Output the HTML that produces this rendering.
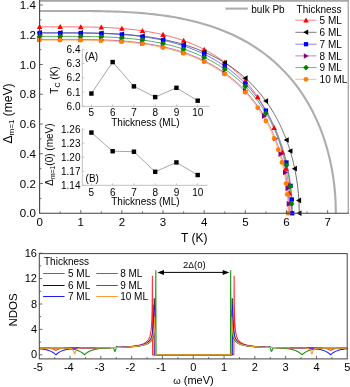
<!DOCTYPE html>
<html><head><meta charset="utf-8"><title>Pb thin film superconducting gap</title>
<style>html,body{margin:0;padding:0;background:#fff;}svg{display:block;will-change:transform;}svg text{font-family:"Liberation Sans",Arial,sans-serif;}</style></head>
<body>
<svg width="350" height="387" viewBox="0 0 350 387" fill="#000">
<rect width="350" height="387" fill="#fff"/>
<polyline points="39.60,10.95 43.87,10.95 48.14,10.95 52.40,10.95 56.67,10.95 60.94,10.95 65.21,10.95 69.48,10.96 73.74,10.96 78.01,10.97 82.28,10.99 86.55,11.02 90.82,11.05 95.09,11.10 99.35,11.17 103.62,11.25 107.89,11.35 112.16,11.47 116.43,11.62 120.69,11.79 124.96,11.99 129.23,12.23 133.50,12.49 137.77,12.80 142.03,13.14 146.30,13.52 150.57,13.94 154.84,14.41 159.11,14.93 163.37,15.50 167.64,16.13 171.91,16.81 176.18,17.55 180.45,18.35 184.72,19.22 188.98,20.16 193.25,21.17 197.52,22.26 201.79,23.43 206.06,24.69 210.32,26.03 214.59,27.48 218.86,29.02 223.13,30.67 227.40,32.43 231.66,34.31 235.93,36.31 240.20,38.45 244.47,40.74 248.74,43.18 253.00,45.78 257.27,48.56 261.54,51.53 265.81,54.71 270.08,58.11 274.35,61.75 278.61,65.67 282.88,69.88 287.15,74.42 291.42,79.33 291.42,79.33 291.74,79.72 292.06,80.10 292.38,80.49 292.70,80.88 293.02,81.28 293.34,81.67 293.66,82.07 293.98,82.47 294.29,82.88 294.61,83.29 294.93,83.69 295.25,84.11 295.57,84.52 295.89,84.94 296.21,85.36 296.53,85.78 296.85,86.21 297.17,86.63 297.49,87.07 297.81,87.50 298.13,87.94 298.45,88.38 298.77,88.82 299.09,89.27 299.41,89.71 299.73,90.17 300.05,90.62 300.37,91.08 300.69,91.54 301.01,92.01 301.33,92.48 301.65,92.95 301.97,93.42 302.29,93.90 302.61,94.38 302.93,94.87 303.25,95.36 303.57,95.85 303.89,96.34 304.21,96.84 304.53,97.35 304.85,97.86 305.16,98.37 305.48,98.88 305.80,99.40 306.12,99.93 306.44,100.45 306.76,100.98 307.08,101.52 307.40,102.06 307.72,102.60 308.04,103.15 308.36,103.71 308.68,104.27 309.00,104.83 309.32,105.40 309.64,105.97 309.96,106.54 310.28,107.13 310.60,107.71 310.92,108.31 311.24,108.90 311.56,109.51 311.88,110.11 312.20,110.73 312.52,111.35 312.84,111.97 313.16,112.60 313.48,113.24 313.80,113.89 314.12,114.53 314.44,115.19 314.76,115.85 315.08,116.52 315.40,117.20 315.71,117.88 316.03,118.57 316.35,119.27 316.67,119.97 316.99,120.68 317.31,121.40 317.63,122.13 317.95,122.87 318.27,123.61 318.59,124.36 318.91,125.12 319.23,125.90 319.55,126.67 319.87,127.46 320.19,128.26 320.51,129.07 320.83,129.89 321.15,130.72 321.47,131.56 321.79,132.42 322.11,133.28 322.43,134.16 322.75,135.05 323.07,135.95 323.39,136.87 323.71,137.80 324.03,138.74 324.35,139.70 324.67,140.67 324.99,141.67 325.31,142.67 325.63,143.70 325.95,144.74 326.26,145.81 326.58,146.89 326.90,148.00 327.22,149.13 327.54,150.28 327.86,151.46 328.18,152.66 328.50,153.89 328.82,155.16 329.14,156.45 329.46,157.78 329.78,159.14 330.10,160.55 330.42,162.00 330.74,163.49 331.06,165.04 331.38,166.64 331.70,168.30 332.02,170.03 332.34,171.85 332.66,173.74 332.98,175.75 333.30,177.87 333.62,180.13 333.94,182.57 334.26,185.22 334.58,188.17 334.90,191.52 335.22,195.50 335.54,200.71 335.86,213.30" fill="none" stroke="#adadad" stroke-width="2.1"/>
<polyline points="39.60,26.87 42.87,26.87 46.14,26.87 49.41,26.87 52.67,26.87 55.94,26.87 59.21,26.87 62.48,26.87 65.75,26.88 69.02,26.88 72.28,26.89 75.55,26.91 78.82,26.93 82.09,26.96 85.36,26.99 88.63,27.04 91.90,27.10 95.16,27.18 98.43,27.27 101.70,27.37 104.97,27.50 108.24,27.65 111.51,27.81 114.77,28.01 118.04,28.22 121.31,28.46 124.58,28.74 127.85,29.04 131.12,29.37 134.39,29.73 137.65,30.14 140.92,30.57 144.19,31.05 147.46,31.57 150.73,32.13 154.00,32.73 157.27,33.38 160.53,34.08 163.80,34.83 167.07,35.64 170.34,36.50 173.61,37.42 176.88,38.40 180.14,39.44 183.41,40.56 186.68,41.74 189.95,43.00 193.22,44.34 196.49,45.76 199.76,47.27 203.02,48.87 206.29,50.57 209.56,52.37 212.83,54.28 216.10,56.31 219.37,58.46 222.63,60.74 225.90,63.16 229.17,65.73 232.44,68.46 235.71,71.37 238.98,74.47 242.25,77.78 245.51,81.32 248.78,85.10 252.05,89.17 255.32,93.54 258.59,98.27 261.86,103.40 265.12,109.01 265.12,109.01 265.34,109.39 265.55,109.77 265.76,110.15 265.97,110.54 266.18,110.93 266.39,111.32 266.60,111.71 266.81,112.11 267.02,112.50 267.23,112.91 267.44,113.31 267.65,113.72 267.86,114.12 268.07,114.54 268.28,114.95 268.49,115.37 268.70,115.79 268.92,116.21 269.13,116.64 269.34,117.07 269.55,117.50 269.76,117.93 269.97,118.37 270.18,118.81 270.39,119.26 270.60,119.70 270.81,120.15 271.02,120.61 271.23,121.06 271.44,121.53 271.65,121.99 271.86,122.46 272.07,122.93 272.28,123.40 272.49,123.88 272.71,124.36 272.92,124.85 273.13,125.34 273.34,125.83 273.55,126.33 273.76,126.83 273.97,127.34 274.18,127.85 274.39,128.36 274.60,128.88 274.81,129.41 275.02,129.94 275.23,130.47 275.44,131.01 275.65,131.55 275.86,132.10 276.07,132.65 276.29,133.21 276.50,133.77 276.71,134.34 276.92,134.91 277.13,135.49 277.34,136.07 277.55,136.67 277.76,137.26 277.97,137.87 278.18,138.48 278.39,139.09 278.60,139.71 278.81,140.34 279.02,140.98 279.23,141.62 279.44,142.28 279.65,142.93 279.87,143.60 280.08,144.28 280.29,144.96 280.50,145.65 280.71,146.35 280.92,147.06 281.13,147.78 281.34,148.51 281.55,149.25 281.76,149.99 281.97,150.75 282.18,151.53 282.39,152.31 282.60,153.10 282.81,153.91 283.02,154.73 283.23,155.56 283.44,156.41 283.66,157.28 283.87,158.15 284.08,159.05 284.29,159.96 284.50,160.89 284.71,161.84 284.92,162.81 285.13,163.80 285.34,164.82 285.55,165.86 285.76,166.92 285.97,168.01 286.18,169.13 286.39,170.28 286.60,171.47 286.81,172.70 287.02,173.96 287.24,175.27 287.45,176.64 287.66,178.05 287.87,179.53 288.08,181.09 288.29,182.72 288.50,184.45 288.71,186.30 288.92,188.29 289.13,190.46 289.34,192.85 289.55,195.58 289.76,198.83 289.97,203.06 290.18,213.30" fill="none" stroke="#ff4a4a" stroke-width="0.8"/>
<polyline points="39.60,32.82 42.99,32.82 46.37,32.82 49.76,32.82 53.15,32.82 56.53,32.82 59.92,32.82 63.31,32.83 66.69,32.83 70.08,32.83 73.47,32.84 76.85,32.86 80.24,32.88 83.63,32.90 87.01,32.94 90.40,32.99 93.78,33.05 97.17,33.12 100.56,33.21 103.94,33.31 107.33,33.43 110.72,33.57 114.10,33.74 117.49,33.92 120.88,34.13 124.26,34.36 127.65,34.63 131.04,34.92 134.42,35.24 137.81,35.59 141.20,35.98 144.58,36.41 147.97,36.87 151.36,37.37 154.74,37.91 158.13,38.49 161.52,39.12 164.90,39.80 168.29,40.53 171.68,41.31 175.06,42.14 178.45,43.03 181.84,43.98 185.22,44.99 188.61,46.07 191.99,47.22 195.38,48.44 198.77,49.74 202.15,51.11 205.54,52.57 208.93,54.12 212.31,55.77 215.70,57.51 219.09,59.36 222.47,61.32 225.86,63.40 229.25,65.61 232.63,67.95 236.02,70.44 239.41,73.09 242.79,75.90 246.18,78.91 249.57,82.11 252.95,85.53 256.34,89.19 259.73,93.13 263.11,97.36 266.50,101.94 269.89,106.91 273.27,112.34 273.27,112.34 273.49,112.70 273.71,113.07 273.93,113.44 274.14,113.82 274.36,114.19 274.58,114.57 274.80,114.95 275.02,115.34 275.24,115.72 275.45,116.11 275.67,116.50 275.89,116.90 276.11,117.29 276.33,117.69 276.54,118.09 276.76,118.49 276.98,118.90 277.20,119.31 277.42,119.72 277.64,120.14 277.85,120.56 278.07,120.98 278.29,121.40 278.51,121.83 278.73,122.26 278.94,122.69 279.16,123.13 279.38,123.57 279.60,124.01 279.82,124.46 280.04,124.90 280.25,125.36 280.47,125.81 280.69,126.27 280.91,126.74 281.13,127.20 281.34,127.67 281.56,128.15 281.78,128.63 282.00,129.11 282.22,129.59 282.44,130.08 282.65,130.58 282.87,131.08 283.09,131.58 283.31,132.09 283.53,132.60 283.74,133.11 283.96,133.63 284.18,134.16 284.40,134.69 284.62,135.22 284.84,135.76 285.05,136.31 285.27,136.86 285.49,137.41 285.71,137.97 285.93,138.54 286.14,139.11 286.36,139.69 286.58,140.27 286.80,140.86 287.02,141.46 287.24,142.06 287.45,142.67 287.67,143.29 287.89,143.91 288.11,144.54 288.33,145.18 288.54,145.83 288.76,146.48 288.98,147.14 289.20,147.81 289.42,148.49 289.64,149.17 289.85,149.87 290.07,150.58 290.29,151.29 290.51,152.02 290.73,152.75 290.94,153.50 291.16,154.26 291.38,155.02 291.60,155.81 291.82,156.60 292.04,157.41 292.25,158.23 292.47,159.06 292.69,159.92 292.91,160.78 293.13,161.67 293.34,162.57 293.56,163.49 293.78,164.42 294.00,165.38 294.22,166.36 294.44,167.37 294.65,168.40 294.87,169.46 295.09,170.54 295.31,171.66 295.53,172.81 295.74,173.99 295.96,175.22 296.18,176.49 296.40,177.81 296.62,179.18 296.84,180.61 297.05,182.12 297.27,183.70 297.49,185.37 297.71,187.16 297.93,189.09 298.14,191.18 298.36,193.51 298.58,196.15 298.80,199.29 299.02,203.39 299.24,213.30" fill="none" stroke="#444444" stroke-width="0.8"/>
<polyline points="39.60,32.97 42.90,32.97 46.19,32.97 49.49,32.97 52.78,32.97 56.08,32.97 59.37,32.97 62.67,32.97 65.96,32.98 69.26,32.98 72.55,32.99 75.85,33.01 79.14,33.03 82.44,33.05 85.73,33.09 89.03,33.14 92.32,33.20 95.62,33.27 98.92,33.35 102.21,33.46 105.51,33.58 108.80,33.72 112.10,33.88 115.39,34.07 118.69,34.28 121.98,34.51 125.28,34.77 128.57,35.07 131.87,35.39 135.16,35.74 138.46,36.13 141.75,36.55 145.05,37.01 148.35,37.51 151.64,38.05 154.94,38.64 158.23,39.27 161.53,39.95 164.82,40.67 168.12,41.45 171.41,42.28 174.71,43.17 178.00,44.12 181.30,45.13 184.59,46.21 187.89,47.36 191.18,48.58 194.48,49.87 197.77,51.25 201.07,52.70 204.37,54.25 207.66,55.90 210.96,57.64 214.25,59.48 217.55,61.44 220.84,63.52 224.14,65.73 227.43,68.07 230.73,70.56 234.02,73.20 237.32,76.02 240.61,79.02 243.91,82.22 247.20,85.64 250.50,89.30 253.80,93.23 257.09,97.46 260.39,102.03 263.68,107.00 266.98,112.42 266.98,112.42 267.19,112.79 267.40,113.15 267.61,113.53 267.83,113.90 268.04,114.28 268.25,114.65 268.46,115.03 268.67,115.42 268.89,115.80 269.10,116.19 269.31,116.58 269.52,116.97 269.74,117.37 269.95,117.77 270.16,118.17 270.37,118.57 270.59,118.98 270.80,119.39 271.01,119.80 271.22,120.22 271.43,120.63 271.65,121.05 271.86,121.48 272.07,121.90 272.28,122.33 272.50,122.77 272.71,123.20 272.92,123.64 273.13,124.08 273.35,124.53 273.56,124.98 273.77,125.43 273.98,125.89 274.19,126.34 274.41,126.81 274.62,127.27 274.83,127.74 275.04,128.22 275.26,128.70 275.47,129.18 275.68,129.66 275.89,130.15 276.11,130.65 276.32,131.14 276.53,131.65 276.74,132.15 276.95,132.66 277.17,133.18 277.38,133.70 277.59,134.22 277.80,134.75 278.02,135.29 278.23,135.83 278.44,136.37 278.65,136.92 278.87,137.48 279.08,138.04 279.29,138.60 279.50,139.17 279.71,139.75 279.93,140.33 280.14,140.92 280.35,141.52 280.56,142.12 280.78,142.73 280.99,143.35 281.20,143.97 281.41,144.60 281.63,145.24 281.84,145.88 282.05,146.53 282.26,147.19 282.47,147.86 282.69,148.54 282.90,149.23 283.11,149.92 283.32,150.63 283.54,151.34 283.75,152.07 283.96,152.80 284.17,153.55 284.39,154.30 284.60,155.07 284.81,155.85 285.02,156.65 285.23,157.45 285.45,158.27 285.66,159.11 285.87,159.96 286.08,160.83 286.30,161.71 286.51,162.61 286.72,163.53 286.93,164.46 287.15,165.42 287.36,166.40 287.57,167.41 287.78,168.44 287.99,169.49 288.21,170.58 288.42,171.69 288.63,172.84 288.84,174.03 289.06,175.25 289.27,176.52 289.48,177.84 289.69,179.21 289.91,180.64 290.12,182.14 290.33,183.72 290.54,185.40 290.75,187.18 290.97,189.11 291.18,191.20 291.39,193.52 291.60,196.16 291.82,199.30 292.03,203.39 292.24,213.30" fill="none" stroke="#4a4aff" stroke-width="0.8"/>
<polyline points="39.60,39.37 42.86,39.37 46.11,39.37 49.37,39.37 52.62,39.37 55.88,39.37 59.13,39.37 62.39,39.37 65.64,39.37 68.90,39.38 72.15,39.39 75.41,39.40 78.66,39.42 81.92,39.45 85.17,39.48 88.43,39.53 91.68,39.59 94.94,39.66 98.19,39.74 101.45,39.84 104.70,39.96 107.96,40.09 111.21,40.25 114.47,40.43 117.72,40.63 120.98,40.86 124.23,41.11 127.49,41.39 130.74,41.70 134.00,42.04 137.25,42.41 140.51,42.82 143.76,43.27 147.02,43.75 150.27,44.27 153.53,44.84 156.78,45.44 160.04,46.10 163.29,46.80 166.55,47.55 169.80,48.35 173.06,49.21 176.31,50.12 179.57,51.10 182.82,52.14 186.08,53.24 189.33,54.42 192.59,55.67 195.84,56.99 199.10,58.40 202.35,59.90 205.61,61.48 208.86,63.16 212.12,64.94 215.37,66.83 218.63,68.84 221.88,70.96 225.14,73.22 228.39,75.62 231.65,78.17 234.90,80.89 238.16,83.78 241.41,86.87 244.67,90.16 247.92,93.70 251.18,97.49 254.43,101.57 257.69,105.98 260.94,110.77 264.20,116.00 264.20,116.00 264.41,116.35 264.62,116.71 264.83,117.07 265.04,117.43 265.25,117.79 265.46,118.15 265.67,118.52 265.88,118.89 266.09,119.26 266.30,119.64 266.51,120.01 266.72,120.39 266.93,120.77 267.14,121.16 267.34,121.54 267.55,121.93 267.76,122.33 267.97,122.72 268.18,123.12 268.39,123.52 268.60,123.92 268.81,124.33 269.02,124.73 269.23,125.15 269.44,125.56 269.65,125.98 269.86,126.40 270.07,126.82 270.28,127.25 270.49,127.68 270.70,128.11 270.91,128.55 271.12,128.99 271.33,129.43 271.54,129.88 271.75,130.33 271.96,130.78 272.17,131.24 272.38,131.70 272.59,132.16 272.80,132.63 273.01,133.10 273.22,133.58 273.43,134.06 273.64,134.54 273.85,135.03 274.06,135.52 274.27,136.02 274.47,136.52 274.68,137.03 274.89,137.54 275.10,138.05 275.31,138.57 275.52,139.10 275.73,139.63 275.94,140.17 276.15,140.71 276.36,141.25 276.57,141.80 276.78,142.36 276.99,142.92 277.20,143.49 277.41,144.07 277.62,144.65 277.83,145.23 278.04,145.83 278.25,146.43 278.46,147.04 278.67,147.65 278.88,148.27 279.09,148.90 279.30,149.54 279.51,150.18 279.72,150.84 279.93,151.50 280.14,152.17 280.35,152.85 280.56,153.54 280.77,154.24 280.98,154.95 281.19,155.67 281.40,156.40 281.60,157.14 281.81,157.89 282.02,158.66 282.23,159.44 282.44,160.23 282.65,161.03 282.86,161.85 283.07,162.69 283.28,163.54 283.49,164.41 283.70,165.29 283.91,166.20 284.12,167.12 284.33,168.07 284.54,169.04 284.75,170.03 284.96,171.05 285.17,172.09 285.38,173.17 285.59,174.28 285.80,175.42 286.01,176.60 286.22,177.82 286.43,179.09 286.64,180.42 286.85,181.80 287.06,183.25 287.27,184.77 287.48,186.39 287.69,188.11 287.90,189.97 288.11,191.99 288.32,194.23 288.53,196.77 288.74,199.80 288.94,203.75 289.15,213.30" fill="none" stroke="#a850a8" stroke-width="0.8"/>
<polyline points="39.60,36.39 42.89,36.39 46.18,36.39 49.47,36.39 52.76,36.39 56.05,36.39 59.34,36.39 62.63,36.40 65.92,36.40 69.21,36.40 72.50,36.41 75.79,36.43 79.08,36.45 82.37,36.47 85.66,36.51 88.95,36.56 92.24,36.61 95.53,36.68 98.82,36.77 102.11,36.87 105.40,36.99 108.69,37.13 111.98,37.29 115.27,37.47 118.56,37.67 121.85,37.91 125.14,38.16 128.43,38.45 131.72,38.76 135.01,39.11 138.30,39.49 141.59,39.91 144.88,40.36 148.17,40.85 151.46,41.38 154.75,41.95 158.04,42.57 161.33,43.24 164.62,43.95 167.91,44.71 171.20,45.53 174.49,46.40 177.78,47.33 181.07,48.32 184.36,49.38 187.65,50.51 190.94,51.70 194.23,52.97 197.52,54.32 200.81,55.75 204.10,57.27 207.39,58.88 210.68,60.59 213.97,62.40 217.26,64.33 220.55,66.36 223.84,68.53 227.13,70.83 230.42,73.27 233.71,75.86 237.00,78.62 240.29,81.56 243.58,84.70 246.87,88.06 250.16,91.65 253.45,95.51 256.74,99.66 260.03,104.15 263.32,109.02 266.61,114.33 266.61,114.33 266.82,114.69 267.03,115.06 267.24,115.42 267.45,115.79 267.67,116.15 267.88,116.53 268.09,116.90 268.30,117.27 268.51,117.65 268.73,118.03 268.94,118.42 269.15,118.80 269.36,119.19 269.57,119.58 269.79,119.97 270.00,120.37 270.21,120.77 270.42,121.17 270.63,121.57 270.85,121.98 271.06,122.39 271.27,122.80 271.48,123.22 271.69,123.64 271.91,124.06 272.12,124.48 272.33,124.91 272.54,125.34 272.75,125.78 272.96,126.21 273.18,126.65 273.39,127.10 273.60,127.54 273.81,127.99 274.02,128.45 274.24,128.91 274.45,129.37 274.66,129.83 274.87,130.30 275.08,130.77 275.30,131.25 275.51,131.73 275.72,132.21 275.93,132.70 276.14,133.20 276.36,133.69 276.57,134.19 276.78,134.70 276.99,135.21 277.20,135.72 277.42,136.24 277.63,136.77 277.84,137.30 278.05,137.83 278.26,138.37 278.48,138.91 278.69,139.46 278.90,140.02 279.11,140.58 279.32,141.15 279.54,141.72 279.75,142.30 279.96,142.88 280.17,143.47 280.38,144.07 280.60,144.67 280.81,145.29 281.02,145.90 281.23,146.53 281.44,147.16 281.66,147.80 281.87,148.45 282.08,149.11 282.29,149.77 282.50,150.44 282.71,151.13 282.93,151.82 283.14,152.52 283.35,153.23 283.56,153.95 283.77,154.68 283.99,155.42 284.20,156.18 284.41,156.94 284.62,157.72 284.83,158.51 285.05,159.32 285.26,160.14 285.47,160.97 285.68,161.82 285.89,162.69 286.11,163.57 286.32,164.47 286.53,165.39 286.74,166.33 286.95,167.29 287.17,168.28 287.38,169.29 287.59,170.32 287.80,171.39 288.01,172.48 288.23,173.61 288.44,174.77 288.65,175.97 288.86,177.22 289.07,178.51 289.29,179.85 289.50,181.26 289.71,182.73 289.92,184.28 290.13,185.93 290.35,187.68 290.56,189.57 290.77,191.62 290.98,193.90 291.19,196.49 291.41,199.57 291.62,203.58 291.83,213.30" fill="none" stroke="#309830" stroke-width="0.8"/>
<polyline points="39.60,40.11 42.84,40.11 46.08,40.11 49.32,40.11 52.57,40.11 55.81,40.11 59.05,40.11 62.29,40.12 65.53,40.12 68.77,40.12 72.02,40.13 75.26,40.15 78.50,40.17 81.74,40.19 84.98,40.23 88.22,40.27 91.47,40.33 94.71,40.40 97.95,40.48 101.19,40.58 104.43,40.70 107.67,40.83 110.92,40.99 114.16,41.17 117.40,41.37 120.64,41.59 123.88,41.84 127.12,42.12 130.37,42.43 133.61,42.77 136.85,43.15 140.09,43.55 143.33,43.99 146.57,44.48 149.82,44.99 153.06,45.56 156.30,46.16 159.54,46.81 162.78,47.51 166.02,48.26 169.27,49.06 172.51,49.91 175.75,50.82 178.99,51.79 182.23,52.83 185.47,53.93 188.72,55.10 191.96,56.34 195.20,57.66 198.44,59.06 201.68,60.55 204.92,62.13 208.17,63.80 211.41,65.58 214.65,67.46 217.89,69.45 221.13,71.57 224.37,73.82 227.62,76.21 230.86,78.75 234.10,81.45 237.34,84.33 240.58,87.41 243.82,90.69 247.07,94.21 250.31,97.98 253.55,102.05 256.79,106.44 260.03,111.21 263.27,116.41 263.27,116.41 263.48,116.77 263.69,117.12 263.90,117.48 264.11,117.84 264.32,118.20 264.53,118.56 264.74,118.93 264.94,119.29 265.15,119.66 265.36,120.04 265.57,120.41 265.78,120.79 265.99,121.17 266.20,121.55 266.41,121.94 266.61,122.32 266.82,122.71 267.03,123.11 267.24,123.50 267.45,123.90 267.66,124.30 267.87,124.71 268.08,125.11 268.29,125.52 268.49,125.94 268.70,126.35 268.91,126.77 269.12,127.19 269.33,127.62 269.54,128.04 269.75,128.48 269.96,128.91 270.17,129.35 270.37,129.79 270.58,130.23 270.79,130.68 271.00,131.13 271.21,131.59 271.42,132.05 271.63,132.51 271.84,132.98 272.04,133.45 272.25,133.92 272.46,134.40 272.67,134.88 272.88,135.37 273.09,135.86 273.30,136.35 273.51,136.85 273.72,137.35 273.92,137.86 274.13,138.38 274.34,138.89 274.55,139.42 274.76,139.95 274.97,140.48 275.18,141.02 275.39,141.56 275.60,142.11 275.80,142.66 276.01,143.22 276.22,143.79 276.43,144.36 276.64,144.94 276.85,145.53 277.06,146.12 277.27,146.72 277.47,147.32 277.68,147.93 277.89,148.55 278.10,149.18 278.31,149.81 278.52,150.45 278.73,151.11 278.94,151.76 279.15,152.43 279.35,153.11 279.56,153.80 279.77,154.49 279.98,155.20 280.19,155.91 280.40,156.64 280.61,157.38 280.82,158.13 281.03,158.89 281.23,159.67 281.44,160.45 281.65,161.26 281.86,162.07 282.07,162.90 282.28,163.75 282.49,164.62 282.70,165.50 282.90,166.40 283.11,167.32 283.32,168.26 283.53,169.22 283.74,170.21 283.95,171.23 284.16,172.27 284.37,173.34 284.58,174.44 284.78,175.58 284.99,176.76 285.20,177.98 285.41,179.24 285.62,180.56 285.83,181.93 286.04,183.38 286.25,184.89 286.46,186.50 286.66,188.22 286.87,190.07 287.08,192.08 287.29,194.31 287.50,196.84 287.71,199.85 287.92,203.79 288.13,213.30" fill="none" stroke="#ff9c40" stroke-width="0.8"/>
<polygon points="39.60,24.07 42.41,29.12 36.80,29.12" fill="#ff0000"/>
<polygon points="60.17,24.07 62.98,29.12 57.37,29.12" fill="#ff0000"/>
<polygon points="80.75,24.14 83.55,29.19 77.94,29.19" fill="#ff0000"/>
<polygon points="101.32,24.56 104.12,29.61 98.51,29.61" fill="#ff0000"/>
<polygon points="121.89,25.71 124.70,30.75 119.09,30.75" fill="#ff0000"/>
<polygon points="142.47,27.99 145.27,33.04 139.66,33.04" fill="#ff0000"/>
<polygon points="163.04,31.85 165.84,36.90 160.23,36.90" fill="#ff0000"/>
<polygon points="183.61,37.82 186.42,42.87 180.81,42.87" fill="#ff0000"/>
<polygon points="204.19,46.66 206.99,51.71 201.38,51.71" fill="#ff0000"/>
<polygon points="224.76,59.49 227.56,64.54 221.95,64.54" fill="#ff0000"/>
<polygon points="245.33,78.31 248.14,83.36 242.53,83.36" fill="#ff0000"/>
<polygon points="257.68,94.11 260.48,99.16 254.87,99.16" fill="#ff0000"/>
<polygon points="274.14,124.94 276.94,129.99 271.33,129.99" fill="#ff0000"/>
<polygon points="282.37,149.40 285.17,154.45 279.56,154.45" fill="#ff0000"/>
<polygon points="286.07,165.72 288.87,170.77 283.26,170.77" fill="#ff0000"/>
<polygon points="288.54,181.98 291.34,187.03 285.73,187.03" fill="#ff0000"/>
<polygon points="289.36,190.29 292.17,195.33 286.56,195.33" fill="#ff0000"/>
<polygon points="289.98,200.37 292.78,205.42 287.17,205.42" fill="#ff0000"/>
<polygon points="36.80,32.82 41.84,30.02 41.84,35.63" fill="#000000"/>
<polygon points="57.37,32.82 62.42,30.02 62.42,35.63" fill="#000000"/>
<polygon points="77.94,32.88 82.99,30.08 82.99,35.69" fill="#000000"/>
<polygon points="98.51,33.23 103.56,30.42 103.56,36.03" fill="#000000"/>
<polygon points="119.09,34.20 124.14,31.39 124.14,37.00" fill="#000000"/>
<polygon points="139.66,36.14 144.71,33.33 144.71,38.94" fill="#000000"/>
<polygon points="160.23,39.42 165.28,36.62 165.28,42.23" fill="#000000"/>
<polygon points="180.81,44.51 185.86,41.70 185.86,47.31" fill="#000000"/>
<polygon points="201.38,51.98 206.43,49.17 206.43,54.78" fill="#000000"/>
<polygon points="221.95,62.71 227.00,59.90 227.00,65.51" fill="#000000"/>
<polygon points="242.53,78.14 247.58,75.33 247.58,80.94" fill="#000000"/>
<polygon points="263.10,101.12 268.15,98.31 268.15,103.92" fill="#000000"/>
<polygon points="283.68,140.00 288.72,137.20 288.72,142.81" fill="#000000"/>
<polygon points="287.38,150.94 292.43,148.13 292.43,153.74" fill="#000000"/>
<polygon points="291.90,168.67 296.95,165.86 296.95,171.47" fill="#000000"/>
<polygon points="296.06,200.39 301.11,197.58 301.11,203.19" fill="#000000"/>
<polygon points="296.43,213.30 301.48,210.50 301.48,216.11" fill="#000000"/>
<rect x="37.43" y="30.80" width="4.33" height="4.33" fill="#0000ff"/>
<rect x="58.01" y="30.81" width="4.33" height="4.33" fill="#0000ff"/>
<rect x="78.58" y="30.87" width="4.33" height="4.33" fill="#0000ff"/>
<rect x="99.15" y="31.26" width="4.33" height="4.33" fill="#0000ff"/>
<rect x="119.73" y="32.34" width="4.33" height="4.33" fill="#0000ff"/>
<rect x="140.30" y="34.48" width="4.33" height="4.33" fill="#0000ff"/>
<rect x="160.87" y="38.11" width="4.33" height="4.33" fill="#0000ff"/>
<rect x="181.45" y="43.72" width="4.33" height="4.33" fill="#0000ff"/>
<rect x="202.02" y="52.00" width="4.33" height="4.33" fill="#0000ff"/>
<rect x="222.59" y="63.99" width="4.33" height="4.33" fill="#0000ff"/>
<rect x="243.17" y="81.50" width="4.33" height="4.33" fill="#0000ff"/>
<rect x="263.74" y="108.44" width="4.33" height="4.33" fill="#0000ff"/>
<rect x="284.31" y="160.32" width="4.33" height="4.33" fill="#0000ff"/>
<rect x="288.43" y="183.66" width="4.33" height="4.33" fill="#0000ff"/>
<rect x="289.66" y="197.35" width="4.33" height="4.33" fill="#0000ff"/>
<rect x="290.07" y="211.13" width="4.33" height="4.33" fill="#0000ff"/>
<polygon points="42.41,39.37 37.36,36.56 37.36,42.17" fill="#800080"/>
<polygon points="62.98,39.37 57.93,36.57 57.93,42.18" fill="#800080"/>
<polygon points="83.55,39.44 78.50,36.63 78.50,42.24" fill="#800080"/>
<polygon points="104.12,39.83 99.08,37.03 99.08,42.64" fill="#800080"/>
<polygon points="124.70,40.92 119.65,38.12 119.65,43.73" fill="#800080"/>
<polygon points="145.27,43.09 140.22,40.28 140.22,45.89" fill="#800080"/>
<polygon points="165.84,46.74 160.80,43.94 160.80,49.55" fill="#800080"/>
<polygon points="186.42,52.40 181.37,49.60 181.37,55.21" fill="#800080"/>
<polygon points="206.99,60.78 201.94,57.97 201.94,63.58" fill="#800080"/>
<polygon points="227.56,72.95 222.52,70.15 222.52,75.76" fill="#800080"/>
<polygon points="248.14,90.87 243.09,88.06 243.09,93.67" fill="#800080"/>
<polygon points="267.07,116.10 262.02,113.30 262.02,118.91" fill="#800080"/>
<polygon points="278.18,138.72 273.13,135.91 273.13,141.52" fill="#800080"/>
<polygon points="283.52,154.08 278.48,151.28 278.48,156.89" fill="#800080"/>
<polygon points="288.05,172.48 283.00,169.67 283.00,175.28" fill="#800080"/>
<polygon points="290.52,188.35 285.47,185.54 285.47,191.15" fill="#800080"/>
<polygon points="291.75,203.84 286.70,201.03 286.70,206.64" fill="#800080"/>
<polygon points="39.60,33.46 42.53,36.39 39.60,39.33 36.67,36.39" fill="#008000"/>
<polygon points="60.17,33.46 63.11,36.39 60.17,39.33 57.24,36.39" fill="#008000"/>
<polygon points="80.75,33.53 83.68,36.46 80.75,39.39 77.81,36.46" fill="#008000"/>
<polygon points="101.32,33.91 104.25,36.85 101.32,39.78 98.39,36.85" fill="#008000"/>
<polygon points="121.89,34.98 124.83,37.91 121.89,40.84 118.96,37.91" fill="#008000"/>
<polygon points="142.47,37.09 145.40,40.02 142.47,42.96 139.53,40.02" fill="#008000"/>
<polygon points="163.04,40.67 165.97,43.60 163.04,46.53 160.11,43.60" fill="#008000"/>
<polygon points="183.61,46.20 186.55,49.14 183.61,52.07 180.68,49.14" fill="#008000"/>
<polygon points="204.19,54.38 207.12,57.31 204.19,60.25 201.25,57.31" fill="#008000"/>
<polygon points="224.76,66.23 227.69,69.16 224.76,72.09 221.83,69.16" fill="#008000"/>
<polygon points="245.33,83.53 248.27,86.47 245.33,89.40 242.40,86.47" fill="#008000"/>
<polygon points="265.91,110.23 268.84,113.16 265.91,116.09 262.97,113.16" fill="#008000"/>
<polygon points="286.48,162.24 289.41,165.17 286.48,168.10 283.55,165.17" fill="#008000"/>
<polygon points="290.18,183.40 293.12,186.33 290.18,189.26 287.25,186.33" fill="#008000"/>
<polygon points="291.62,200.79 294.56,203.73 291.62,206.66 288.69,203.73" fill="#008000"/>
<circle cx="39.60" cy="40.11" r="2.42" fill="#ff8000"/>
<circle cx="60.17" cy="40.11" r="2.42" fill="#ff8000"/>
<circle cx="80.75" cy="40.18" r="2.42" fill="#ff8000"/>
<circle cx="101.32" cy="40.59" r="2.42" fill="#ff8000"/>
<circle cx="121.89" cy="41.69" r="2.42" fill="#ff8000"/>
<circle cx="142.47" cy="43.87" r="2.42" fill="#ff8000"/>
<circle cx="163.04" cy="47.57" r="2.42" fill="#ff8000"/>
<circle cx="183.61" cy="53.29" r="2.42" fill="#ff8000"/>
<circle cx="204.19" cy="61.76" r="2.42" fill="#ff8000"/>
<circle cx="224.76" cy="74.10" r="2.42" fill="#ff8000"/>
<circle cx="245.33" cy="92.30" r="2.42" fill="#ff8000"/>
<circle cx="257.68" cy="107.71" r="2.42" fill="#ff8000"/>
<circle cx="265.91" cy="121.02" r="2.42" fill="#ff8000"/>
<circle cx="274.14" cy="138.38" r="2.42" fill="#ff8000"/>
<circle cx="278.25" cy="149.63" r="2.42" fill="#ff8000"/>
<circle cx="281.95" cy="162.44" r="2.42" fill="#ff8000"/>
<circle cx="286.07" cy="183.60" r="2.42" fill="#ff8000"/>
<circle cx="287.30" cy="194.45" r="2.42" fill="#ff8000"/>
<circle cx="288.13" cy="213.30" r="2.42" fill="#ff8000"/>
<path d="M39.6,0.8 H348.2" fill="none" stroke="#a6a6a6" stroke-width="1.7"/>
<path d="M348.2,0 V213.3" fill="none" stroke="#9a9a9a" stroke-width="1.2"/>
<path d="M39.6,0 V213.3 H348.8" fill="none" stroke="#444444" stroke-width="1.1"/>
<line x1="60.17" y1="213.3" x2="60.17" y2="211.5" stroke="#444444" stroke-width="0.8"/>
<line x1="80.75" y1="213.3" x2="80.75" y2="210.10000000000002" stroke="#444444" stroke-width="0.8"/>
<line x1="101.32" y1="213.3" x2="101.32" y2="211.5" stroke="#444444" stroke-width="0.8"/>
<line x1="121.89" y1="213.3" x2="121.89" y2="210.10000000000002" stroke="#444444" stroke-width="0.8"/>
<line x1="142.47" y1="213.3" x2="142.47" y2="211.5" stroke="#444444" stroke-width="0.8"/>
<line x1="163.04" y1="213.3" x2="163.04" y2="210.10000000000002" stroke="#444444" stroke-width="0.8"/>
<line x1="183.61" y1="213.3" x2="183.61" y2="211.5" stroke="#444444" stroke-width="0.8"/>
<line x1="204.19" y1="213.3" x2="204.19" y2="210.10000000000002" stroke="#444444" stroke-width="0.8"/>
<line x1="224.76" y1="213.3" x2="224.76" y2="211.5" stroke="#444444" stroke-width="0.8"/>
<line x1="245.33" y1="213.3" x2="245.33" y2="210.10000000000002" stroke="#444444" stroke-width="0.8"/>
<line x1="265.91" y1="213.3" x2="265.91" y2="211.5" stroke="#444444" stroke-width="0.8"/>
<line x1="286.48" y1="213.3" x2="286.48" y2="210.10000000000002" stroke="#444444" stroke-width="0.8"/>
<line x1="307.05" y1="213.3" x2="307.05" y2="211.5" stroke="#444444" stroke-width="0.8"/>
<line x1="327.63" y1="213.3" x2="327.63" y2="210.10000000000002" stroke="#444444" stroke-width="0.8"/>
<line x1="39.6" y1="198.42" x2="41.4" y2="198.42" stroke="#444444" stroke-width="0.8"/>
<line x1="39.6" y1="183.54" x2="42.800000000000004" y2="183.54" stroke="#444444" stroke-width="0.8"/>
<line x1="39.6" y1="168.66" x2="41.4" y2="168.66" stroke="#444444" stroke-width="0.8"/>
<line x1="39.6" y1="153.79" x2="42.800000000000004" y2="153.79" stroke="#444444" stroke-width="0.8"/>
<line x1="39.6" y1="138.91" x2="41.4" y2="138.91" stroke="#444444" stroke-width="0.8"/>
<line x1="39.6" y1="124.03" x2="42.800000000000004" y2="124.03" stroke="#444444" stroke-width="0.8"/>
<line x1="39.6" y1="109.15" x2="41.4" y2="109.15" stroke="#444444" stroke-width="0.8"/>
<line x1="39.6" y1="94.27" x2="42.800000000000004" y2="94.27" stroke="#444444" stroke-width="0.8"/>
<line x1="39.6" y1="79.39" x2="41.4" y2="79.39" stroke="#444444" stroke-width="0.8"/>
<line x1="39.6" y1="64.51" x2="42.800000000000004" y2="64.51" stroke="#444444" stroke-width="0.8"/>
<line x1="39.6" y1="49.64" x2="41.4" y2="49.64" stroke="#444444" stroke-width="0.8"/>
<line x1="39.6" y1="34.76" x2="42.800000000000004" y2="34.76" stroke="#444444" stroke-width="0.8"/>
<line x1="39.6" y1="19.88" x2="41.4" y2="19.88" stroke="#444444" stroke-width="0.8"/>
<line x1="39.6" y1="5.00" x2="42.800000000000004" y2="5.00" stroke="#444444" stroke-width="0.8"/>
<text x="39.60" y="226.3" font-size="11.5" text-anchor="middle">0</text>
<text x="80.75" y="226.3" font-size="11.5" text-anchor="middle">1</text>
<text x="121.89" y="226.3" font-size="11.5" text-anchor="middle">2</text>
<text x="163.04" y="226.3" font-size="11.5" text-anchor="middle">3</text>
<text x="204.19" y="226.3" font-size="11.5" text-anchor="middle">4</text>
<text x="245.33" y="226.3" font-size="11.5" text-anchor="middle">5</text>
<text x="286.48" y="226.3" font-size="11.5" text-anchor="middle">6</text>
<text x="327.63" y="226.3" font-size="11.5" text-anchor="middle">7</text>
<text x="35.8" y="216.60" font-size="11.5" text-anchor="end">0.0</text>
<text x="35.8" y="187.74" font-size="11.5" text-anchor="end">0.2</text>
<text x="35.8" y="157.99" font-size="11.5" text-anchor="end">0.4</text>
<text x="35.8" y="128.23" font-size="11.5" text-anchor="end">0.6</text>
<text x="35.8" y="98.47" font-size="11.5" text-anchor="end">0.8</text>
<text x="35.8" y="68.71" font-size="11.5" text-anchor="end">1.0</text>
<text x="35.8" y="38.96" font-size="11.5" text-anchor="end">1.2</text>
<text x="35.8" y="9.20" font-size="11.5" text-anchor="end">1.4</text>
<text x="194.3" y="241.8" font-size="12" text-anchor="middle">T (K)</text>
<text transform="translate(11.5,113.5) rotate(-90)" font-size="12" text-anchor="middle">Δ<tspan font-size="8" dy="2.2">m=1</tspan><tspan dy="-2.2"> (meV)</tspan></text>
<line x1="225.5" y1="8.6" x2="247.8" y2="8.6" stroke="#adadad" stroke-width="2.1"/>
<text x="251.3" y="12.5" font-size="10">bulk Pb</text>
<text x="296.6" y="12.5" font-size="10">Thickness</text>
<line x1="295.4" y1="20.2" x2="316.5" y2="20.2" stroke="#ff4a4a" stroke-width="0.7"/>
<polygon points="306.00,17.45 308.75,22.40 303.25,22.40" fill="#ff0000"/>
<text x="319.6" y="23.8" font-size="10">5 ML</text>
<line x1="295.4" y1="32.3" x2="316.5" y2="32.3" stroke="#444444" stroke-width="0.7"/>
<polygon points="303.25,32.30 308.20,29.55 308.20,35.05" fill="#000000"/>
<text x="319.6" y="35.9" font-size="10">6 ML</text>
<line x1="295.4" y1="44.2" x2="316.5" y2="44.2" stroke="#4a4aff" stroke-width="0.7"/>
<rect x="303.88" y="42.08" width="4.25" height="4.25" fill="#0000ff"/>
<text x="319.6" y="47.800000000000004" font-size="10">7 ML</text>
<line x1="295.4" y1="55.9" x2="316.5" y2="55.9" stroke="#a850a8" stroke-width="0.7"/>
<polygon points="308.75,55.90 303.80,53.15 303.80,58.65" fill="#800080"/>
<text x="319.6" y="59.5" font-size="10">8 ML</text>
<line x1="295.4" y1="67.6" x2="316.5" y2="67.6" stroke="#309830" stroke-width="0.7"/>
<polygon points="306.00,64.72 308.88,67.60 306.00,70.47 303.12,67.60" fill="#008000"/>
<text x="319.6" y="71.19999999999999" font-size="10">9 ML</text>
<line x1="295.4" y1="79.3" x2="316.5" y2="79.3" stroke="#ff9c40" stroke-width="0.7"/>
<circle cx="306.00" cy="79.30" r="2.38" fill="#ff8000"/>
<text x="319.6" y="82.89999999999999" font-size="10">10 ML</text>
<path d="M82.3,49.3 V106.4 H209.4" fill="none" stroke="#b0b0b0" stroke-width="0.8"/>
<line x1="82.3" y1="106.40" x2="84.3" y2="106.40" stroke="#b0b0b0" stroke-width="0.7"/>
<text x="80.5" y="110.00" font-size="10" text-anchor="end">6.0</text>
<line x1="82.3" y1="92.10" x2="84.3" y2="92.10" stroke="#b0b0b0" stroke-width="0.7"/>
<text x="80.5" y="95.70" font-size="10" text-anchor="end">6.1</text>
<line x1="82.3" y1="77.80" x2="84.3" y2="77.80" stroke="#b0b0b0" stroke-width="0.7"/>
<text x="80.5" y="81.40" font-size="10" text-anchor="end">6.2</text>
<line x1="82.3" y1="63.50" x2="84.3" y2="63.50" stroke="#b0b0b0" stroke-width="0.7"/>
<text x="80.5" y="67.10" font-size="10" text-anchor="end">6.3</text>
<line x1="82.3" y1="49.20" x2="84.3" y2="49.20" stroke="#b0b0b0" stroke-width="0.7"/>
<text x="80.5" y="52.80" font-size="10" text-anchor="end">6.4</text>
<line x1="91.40" y1="106.4" x2="91.40" y2="104.4" stroke="#b0b0b0" stroke-width="0.7"/>
<text x="91.40" y="115.9" font-size="10" text-anchor="middle">5</text>
<line x1="112.66" y1="106.4" x2="112.66" y2="104.4" stroke="#b0b0b0" stroke-width="0.7"/>
<text x="112.66" y="115.9" font-size="10" text-anchor="middle">6</text>
<line x1="133.92" y1="106.4" x2="133.92" y2="104.4" stroke="#b0b0b0" stroke-width="0.7"/>
<text x="133.92" y="115.9" font-size="10" text-anchor="middle">7</text>
<line x1="155.18" y1="106.4" x2="155.18" y2="104.4" stroke="#b0b0b0" stroke-width="0.7"/>
<text x="155.18" y="115.9" font-size="10" text-anchor="middle">8</text>
<line x1="176.44" y1="106.4" x2="176.44" y2="104.4" stroke="#b0b0b0" stroke-width="0.7"/>
<text x="176.44" y="115.9" font-size="10" text-anchor="middle">9</text>
<line x1="197.70" y1="106.4" x2="197.70" y2="104.4" stroke="#b0b0b0" stroke-width="0.7"/>
<text x="197.70" y="115.9" font-size="10" text-anchor="middle">10</text>
<polyline points="91.40,93.53 112.66,62.07 133.92,86.38 155.18,97.10 176.44,87.81 197.70,100.68" fill="none" stroke="#808080" stroke-width="0.7"/>
<rect x="89.19" y="91.32" width="4.42" height="4.42" fill="#000"/>
<rect x="110.45" y="59.86" width="4.42" height="4.42" fill="#000"/>
<rect x="131.71" y="84.17" width="4.42" height="4.42" fill="#000"/>
<rect x="152.97" y="94.89" width="4.42" height="4.42" fill="#000"/>
<rect x="174.23" y="85.60" width="4.42" height="4.42" fill="#000"/>
<rect x="195.49" y="98.47" width="4.42" height="4.42" fill="#000"/>
<text x="145.4" y="125.9" font-size="10" text-anchor="middle">Thickness (ML)</text>
<path d="M82.3,128.5 V185.3 H207.7" fill="none" stroke="#b0b0b0" stroke-width="0.8"/>
<line x1="82.3" y1="185.30" x2="84.3" y2="185.30" stroke="#b0b0b0" stroke-width="0.7"/>
<text x="80.5" y="188.90" font-size="10" text-anchor="end">1.14</text>
<line x1="82.3" y1="171.30" x2="84.3" y2="171.30" stroke="#b0b0b0" stroke-width="0.7"/>
<text x="80.5" y="174.90" font-size="10" text-anchor="end">1.17</text>
<line x1="82.3" y1="157.30" x2="84.3" y2="157.30" stroke="#b0b0b0" stroke-width="0.7"/>
<text x="80.5" y="160.90" font-size="10" text-anchor="end">1.20</text>
<line x1="82.3" y1="143.30" x2="84.3" y2="143.30" stroke="#b0b0b0" stroke-width="0.7"/>
<text x="80.5" y="146.90" font-size="10" text-anchor="end">1.23</text>
<line x1="82.3" y1="129.30" x2="84.3" y2="129.30" stroke="#b0b0b0" stroke-width="0.7"/>
<text x="80.5" y="132.90" font-size="10" text-anchor="end">1.26</text>
<line x1="91.40" y1="185.3" x2="91.40" y2="183.3" stroke="#b0b0b0" stroke-width="0.7"/>
<text x="91.40" y="195.6" font-size="10" text-anchor="middle">5</text>
<line x1="112.66" y1="185.3" x2="112.66" y2="183.3" stroke="#b0b0b0" stroke-width="0.7"/>
<text x="112.66" y="195.6" font-size="10" text-anchor="middle">6</text>
<line x1="133.92" y1="185.3" x2="133.92" y2="183.3" stroke="#b0b0b0" stroke-width="0.7"/>
<text x="133.92" y="195.6" font-size="10" text-anchor="middle">7</text>
<line x1="155.18" y1="185.3" x2="155.18" y2="183.3" stroke="#b0b0b0" stroke-width="0.7"/>
<text x="155.18" y="195.6" font-size="10" text-anchor="middle">8</text>
<line x1="176.44" y1="185.3" x2="176.44" y2="183.3" stroke="#b0b0b0" stroke-width="0.7"/>
<text x="176.44" y="195.6" font-size="10" text-anchor="middle">9</text>
<line x1="197.70" y1="185.3" x2="197.70" y2="183.3" stroke="#b0b0b0" stroke-width="0.7"/>
<text x="197.70" y="195.6" font-size="10" text-anchor="middle">10</text>
<polyline points="91.40,132.57 112.66,151.23 133.92,151.70 155.18,171.77 176.44,162.43 197.70,175.03" fill="none" stroke="#808080" stroke-width="0.7"/>
<rect x="89.19" y="130.36" width="4.42" height="4.42" fill="#000"/>
<rect x="110.45" y="149.02" width="4.42" height="4.42" fill="#000"/>
<rect x="131.71" y="149.49" width="4.42" height="4.42" fill="#000"/>
<rect x="152.97" y="169.56" width="4.42" height="4.42" fill="#000"/>
<rect x="174.23" y="160.22" width="4.42" height="4.42" fill="#000"/>
<rect x="195.49" y="172.82" width="4.42" height="4.42" fill="#000"/>
<text x="145.4" y="204.5" font-size="10" text-anchor="middle">Thickness (ML)</text>
<text x="84.8" y="60.0" font-size="10">(A)</text>
<text x="85.6" y="181.6" font-size="10">(B)</text>
<text transform="translate(57.5,80) rotate(-90)" font-size="10" text-anchor="middle">T<tspan font-size="7" dy="2">C</tspan><tspan dy="-2"> (K)</tspan></text>
<text transform="translate(53.2,154.6) rotate(-90)" font-size="10" text-anchor="middle">Δ<tspan font-size="6.8" dy="2">m=1</tspan><tspan dy="-2">(0) (meV)</tspan></text>
<polyline points="39.25,348.23 39.84,348.23 40.43,348.23 41.02,348.23 41.61,348.23 42.19,348.23 42.77,348.24 43.36,348.24 43.94,348.25 44.51,348.26 45.09,348.26 45.67,348.28 46.24,348.29 46.81,348.31 47.38,348.33 47.95,348.36 48.51,348.39 49.08,348.43 49.64,348.48 50.20,348.54 50.76,348.61 51.32,348.70 51.88,348.80 52.43,348.92 52.99,349.07 53.54,349.25 54.09,349.46 54.63,349.71 55.18,350.01 55.72,350.36 56.27,350.20 56.81,349.87 57.35,349.59 57.89,349.36 58.42,349.16 58.96,349.00 59.49,348.86 60.02,348.74 60.55,348.64 61.08,348.56 61.61,348.49 62.13,348.43 62.65,348.38 63.17,348.33 63.69,348.30 64.21,348.26 64.73,348.24 65.24,348.21 65.76,348.19 66.27,348.18 66.78,348.16 67.29,348.15 67.79,348.14 68.30,348.12 68.80,348.12 69.30,348.11 69.80,348.10 70.30,348.09 70.80,348.08 71.29,348.08 71.78,348.07 72.28,348.07 72.77,348.06 73.25,348.06 73.74,348.05 74.23,348.05 74.71,348.04 75.19,348.04 75.67,348.03 76.15,348.03 76.63,348.03 77.10,348.02 77.58,348.02 78.05,348.01 78.52,348.01 78.99,348.00 79.45,348.00 79.92,348.00 80.38,347.99 80.85,347.99 81.31,347.98 81.77,347.98 82.22,347.97 82.68,347.97 83.13,347.97 83.59,347.96 84.04,347.96 84.49,347.95 84.93,347.95 85.38,347.94 85.82,347.94 86.27,347.93 86.71,347.93 87.15,347.92 87.59,347.92 88.02,347.91 88.46,347.91 88.89,347.90 89.32,347.90 89.75,347.89 90.18,347.89 90.61,347.88 91.03,347.88 91.46,347.87 91.88,347.87 92.30,347.86 92.72,347.85 93.13,347.85 93.55,347.84 93.96,347.84 94.38,347.83 94.79,347.82 95.20,347.82 95.60,347.81 96.01,347.81 96.41,347.80 96.82,347.79 97.22,347.79 97.62,347.78 98.02,347.77 98.41,347.77 98.81,347.76 99.20,347.75 99.59,347.75 99.98,347.74 100.37,347.73 100.76,347.73 101.14,347.72 101.53,347.71 101.91,347.70 102.29,347.70 102.67,347.69 103.05,347.68 103.42,347.67 103.80,347.67 104.17,347.66 104.54,347.65 104.91,347.64 105.28,347.64 105.65,347.63 106.01,347.62 106.37,347.61 106.74,347.60 107.10,347.59 107.45,347.58 107.81,347.58 108.17,347.57 108.52,347.56 108.87,347.55 109.23,347.54 109.57,347.53 109.92,347.52 110.27,347.51 110.61,347.50 110.96,347.49 111.30,347.48 111.64,347.47 111.98,347.46 112.31,347.45 112.65,347.44 112.98,347.43 113.32,347.42 113.65,347.41 113.98,347.40 114.31,347.39 114.63,347.37 114.96,347.36 115.28,347.35 115.60,347.34 115.92,347.33 116.24,347.32 116.56,347.30 116.87,347.29 117.19,347.28 117.50,347.27 117.81,347.25 118.12,347.24 118.43,347.23 118.74,347.22 119.04,347.20 119.34,347.19 119.65,347.17 119.95,347.16 120.25,347.15 120.54,347.13 120.84,347.12 121.13,347.10 121.43,347.09 121.72,347.07 122.01,347.06 122.30,347.04 122.58,347.03 122.87,347.01 123.15,347.00 123.43,346.98 123.72,346.96 123.99,346.95 124.27,346.93 124.55,346.91 124.82,346.90 125.10,346.88 125.37,346.86 125.64,346.84 125.91,346.82 126.18,346.81 126.44,346.79 126.71,346.77 126.97,346.75 127.23,346.73 127.49,346.71 127.75,346.69 128.01,346.67 128.26,346.65 128.52,346.63 128.77,346.61 129.02,346.59 129.27,346.56 129.52,346.54 129.77,346.52 130.01,346.50 130.26,346.47 130.50,346.45 130.74,346.43 130.98,346.40 131.22,346.38 131.45,346.35 131.69,346.33 131.92,346.30 132.16,346.28 132.39,346.25 132.62,346.22 132.84,346.20 133.07,346.17 133.30,346.14 133.52,346.12 133.74,346.09 133.96,346.06 134.18,346.03 134.40,346.00 134.62,345.97 134.83,345.94 135.04,345.91 135.26,345.88 135.47,345.84 135.68,345.81 135.89,345.78 136.09,345.74 136.30,345.71 136.50,345.68 136.70,345.64 136.90,345.61 137.10,345.57 137.30,345.53 137.50,345.50 137.69,345.46 137.89,345.42 138.08,345.38 138.27,345.34 138.46,345.30 138.65,345.26 138.83,345.22 139.02,345.18 139.20,345.13 139.39,345.09 139.57,345.05 139.75,345.00 139.93,344.96 140.10,344.91 140.28,344.86 140.45,344.81 140.63,344.76 140.80,344.72 140.97,344.66 141.14,344.61 141.30,344.56 141.47,344.51 141.63,344.45 141.80,344.40 141.96,344.34 142.12,344.29 142.28,344.23 142.44,344.17 142.59,344.11 142.75,344.05 142.90,343.99 143.06,343.93 143.21,343.86 143.36,343.80 143.51,343.73 143.65,343.66 143.80,343.59 143.94,343.52 144.09,343.45 144.23,343.38 144.37,343.30 144.51,343.23 144.64,343.15 144.78,343.07 144.92,342.99 145.05,342.91 145.18,342.83 145.31,342.74 145.44,342.66 145.57,342.57 145.70,342.48 145.82,342.39 145.95,342.30 146.07,342.20 146.19,342.10 146.31,342.00 146.43,341.90 146.55,341.80 146.67,341.69 146.78,341.59 146.90,341.48 147.01,341.36 147.12,341.25 147.23,341.13 147.34,341.01 147.45,340.89 147.56,340.77 147.66,340.64 147.77,340.51 147.87,340.37 147.97,340.24 148.07,340.10 148.17,339.95 148.27,339.81 148.36,339.66 148.46,339.51 148.55,339.35 148.65,339.19 148.74,339.02 148.83,338.86 148.92,338.68 149.00,338.51 149.09,338.32 149.18,338.14 149.26,337.95 149.34,337.75 149.42,337.55 149.50,337.34 149.58,337.13 149.66,336.92 149.74,336.69 149.81,336.46 149.89,336.23 149.96,335.99 150.03,335.74 150.10,335.48 150.17,335.22 150.24,334.95 150.31,334.67 150.38,334.38 150.44,334.09 150.50,333.78 150.57,333.47 150.63,333.14 150.69,332.81 150.75,332.47 150.81,332.11 150.86,331.75 150.92,331.37 150.97,330.98 151.03,330.57 151.08,330.15 151.13,329.72 151.18,329.28 151.23,328.81 151.28,328.33 151.32,327.84 151.37,327.33 151.41,326.79 151.46,326.24 151.50,325.67 151.54,325.07 151.58,324.46 151.62,323.82 151.66,323.15 151.69,322.46 151.73,321.74 151.76,320.99 151.80,320.22 151.83,319.41 151.86,318.57 151.89,317.69 151.92,316.78 151.95,315.83 151.98,314.84 152.00,313.81 152.03,312.74 152.05,311.63 152.08,310.47 152.10,309.27 152.12,308.01 152.14,306.72 152.16,305.37 152.18,303.98 152.20,302.54 152.21,301.05 152.23,299.53 152.24,297.96 152.26,296.36 152.27,294.74 152.28,293.09 152.30,291.44 152.31,289.78 152.32,288.14 152.32,286.53 152.33,284.97 152.34,283.47 152.35,282.06 152.35,280.75 152.36,279.57 152.36,278.53 152.36,277.64 152.37,276.92 152.37,276.37 152.37,276.00 152.37,275.80 152.37,275.74 152.62,354.80 233.88,354.80 234.13,275.74 234.13,275.80 234.13,276.00 234.13,276.37 234.13,276.92 234.14,277.64 234.14,278.53 234.14,279.57 234.15,280.75 234.15,282.06 234.16,283.47 234.17,284.97 234.18,286.53 234.18,288.14 234.19,289.78 234.20,291.44 234.22,293.09 234.23,294.74 234.24,296.36 234.26,297.96 234.27,299.53 234.29,301.05 234.30,302.54 234.32,303.98 234.34,305.37 234.36,306.72 234.38,308.01 234.40,309.27 234.42,310.47 234.45,311.63 234.47,312.74 234.50,313.81 234.52,314.84 234.55,315.83 234.58,316.78 234.61,317.69 234.64,318.57 234.67,319.41 234.70,320.22 234.74,320.99 234.77,321.74 234.81,322.46 234.84,323.15 234.88,323.82 234.92,324.46 234.96,325.07 235.00,325.67 235.04,326.24 235.09,326.79 235.13,327.33 235.18,327.84 235.22,328.33 235.27,328.81 235.32,329.28 235.37,329.72 235.42,330.15 235.47,330.57 235.53,330.98 235.58,331.37 235.64,331.75 235.69,332.11 235.75,332.47 235.81,332.81 235.87,333.14 235.93,333.47 236.00,333.78 236.06,334.09 236.12,334.38 236.19,334.67 236.26,334.95 236.33,335.22 236.40,335.48 236.47,335.74 236.54,335.99 236.61,336.23 236.69,336.46 236.76,336.69 236.84,336.92 236.92,337.13 237.00,337.34 237.08,337.55 237.16,337.75 237.24,337.95 237.32,338.14 237.41,338.32 237.50,338.51 237.58,338.68 237.67,338.86 237.76,339.02 237.85,339.19 237.95,339.35 238.04,339.51 238.14,339.66 238.23,339.81 238.33,339.95 238.43,340.10 238.53,340.24 238.63,340.37 238.73,340.51 238.84,340.64 238.94,340.77 239.05,340.89 239.16,341.01 239.27,341.13 239.38,341.25 239.49,341.36 239.60,341.48 239.72,341.59 239.83,341.69 239.95,341.80 240.07,341.90 240.19,342.00 240.31,342.10 240.43,342.20 240.55,342.30 240.68,342.39 240.80,342.48 240.93,342.57 241.06,342.66 241.19,342.74 241.32,342.83 241.45,342.91 241.58,342.99 241.72,343.07 241.86,343.15 241.99,343.23 242.13,343.30 242.27,343.38 242.41,343.45 242.56,343.52 242.70,343.59 242.85,343.66 242.99,343.73 243.14,343.80 243.29,343.86 243.44,343.93 243.60,343.99 243.75,344.05 243.91,344.11 244.06,344.17 244.22,344.23 244.38,344.29 244.54,344.34 244.70,344.40 244.87,344.45 245.03,344.51 245.20,344.56 245.36,344.61 245.53,344.66 245.70,344.72 245.87,344.76 246.05,344.81 246.22,344.86 246.40,344.91 246.57,344.96 246.75,345.00 246.93,345.05 247.11,345.09 247.30,345.13 247.48,345.18 247.67,345.22 247.85,345.26 248.04,345.30 248.23,345.34 248.42,345.38 248.61,345.42 248.81,345.46 249.00,345.50 249.20,345.53 249.40,345.57 249.60,345.61 249.80,345.64 250.00,345.68 250.20,345.71 250.41,345.74 250.61,345.78 250.82,345.81 251.03,345.84 251.24,345.88 251.46,345.91 251.67,345.94 251.88,345.97 252.10,346.00 252.32,346.03 252.54,346.06 252.76,346.09 252.98,346.12 253.20,346.14 253.43,346.17 253.66,346.20 253.88,346.22 254.11,346.25 254.34,346.28 254.58,346.30 254.81,346.33 255.05,346.35 255.28,346.38 255.52,346.40 255.76,346.43 256.00,346.45 256.24,346.47 256.49,346.50 256.73,346.52 256.98,346.54 257.23,346.56 257.48,346.59 257.73,346.61 257.98,346.63 258.24,346.65 258.49,346.67 258.75,346.69 259.01,346.71 259.27,346.73 259.53,346.75 259.79,346.77 260.06,346.79 260.32,346.81 260.59,346.82 260.86,346.84 261.13,346.86 261.40,346.88 261.68,346.90 261.95,346.91 262.23,346.93 262.51,346.95 262.78,346.96 263.07,346.98 263.35,347.00 263.63,347.01 263.92,347.03 264.20,347.04 264.49,347.06 264.78,347.07 265.07,347.09 265.37,347.10 265.66,347.12 265.96,347.13 266.25,347.15 266.55,347.16 266.85,347.17 267.16,347.19 267.46,347.20 267.76,347.22 268.07,347.23 268.38,347.24 268.69,347.25 269.00,347.27 269.31,347.28 269.63,347.29 269.94,347.30 270.26,347.32 270.58,347.33 270.90,347.34 271.22,347.35 271.54,347.36 271.87,347.37 272.19,347.39 272.52,347.40 272.85,347.41 273.18,347.42 273.52,347.43 273.85,347.44 274.19,347.45 274.52,347.46 274.86,347.47 275.20,347.48 275.54,347.49 275.89,347.50 276.23,347.51 276.58,347.52 276.93,347.53 277.27,347.54 277.63,347.55 277.98,347.56 278.33,347.57 278.69,347.58 279.05,347.58 279.40,347.59 279.76,347.60 280.13,347.61 280.49,347.62 280.85,347.63 281.22,347.64 281.59,347.64 281.96,347.65 282.33,347.66 282.70,347.67 283.08,347.67 283.45,347.68 283.83,347.69 284.21,347.70 284.59,347.70 284.97,347.71 285.36,347.72 285.74,347.73 286.13,347.73 286.52,347.74 286.91,347.75 287.30,347.75 287.69,347.76 288.09,347.77 288.48,347.77 288.88,347.78 289.28,347.79 289.68,347.79 290.09,347.80 290.49,347.81 290.90,347.81 291.30,347.82 291.71,347.82 292.12,347.83 292.54,347.84 292.95,347.84 293.37,347.85 293.78,347.85 294.20,347.86 294.62,347.87 295.04,347.87 295.47,347.88 295.89,347.88 296.32,347.89 296.75,347.89 297.18,347.90 297.61,347.90 298.04,347.91 298.48,347.91 298.91,347.92 299.35,347.92 299.79,347.93 300.23,347.93 300.68,347.94 301.12,347.94 301.57,347.95 302.01,347.95 302.46,347.96 302.91,347.96 303.37,347.97 303.82,347.97 304.28,347.97 304.73,347.98 305.19,347.98 305.65,347.99 306.12,347.99 306.58,348.00 307.05,348.00 307.51,348.00 307.98,348.01 308.45,348.01 308.92,348.02 309.40,348.02 309.87,348.03 310.35,348.03 310.83,348.03 311.31,348.04 311.79,348.04 312.27,348.05 312.76,348.05 313.25,348.06 313.73,348.06 314.22,348.07 314.72,348.07 315.21,348.08 315.70,348.08 316.20,348.09 316.70,348.10 317.20,348.11 317.70,348.12 318.20,348.12 318.71,348.14 319.21,348.15 319.72,348.16 320.23,348.18 320.74,348.19 321.26,348.21 321.77,348.24 322.29,348.26 322.81,348.30 323.33,348.33 323.85,348.38 324.37,348.43 324.89,348.49 325.42,348.56 325.95,348.64 326.48,348.74 327.01,348.86 327.54,349.00 328.08,349.16 328.61,349.36 329.15,349.59 329.69,349.87 330.23,350.20 330.78,350.36 331.32,350.01 331.87,349.71 332.41,349.46 332.96,349.25 333.51,349.07 334.07,348.92 334.62,348.80 335.18,348.70 335.74,348.61 336.30,348.54 336.86,348.48 337.42,348.43 337.99,348.39 338.55,348.36 339.12,348.33 339.69,348.31 340.26,348.29 340.83,348.28 341.41,348.26 341.99,348.26 342.56,348.25 343.14,348.24 343.73,348.24 344.31,348.23 344.89,348.23 345.48,348.23 346.07,348.23 346.66,348.23 347.25,348.23" fill="none" stroke="#ff2a2a" stroke-width="1.05" stroke-linejoin="miter" stroke-miterlimit="20"/>
<polyline points="39.25,348.24 39.85,348.24 40.45,348.24 41.05,348.23 41.65,348.23 42.24,348.23 42.83,348.23 43.42,348.23 44.01,348.22 44.60,348.22 45.19,348.22 45.77,348.22 46.36,348.22 46.94,348.21 47.52,348.21 48.09,348.21 48.67,348.21 49.24,348.21 49.82,348.20 50.39,348.20 50.96,348.20 51.52,348.20 52.09,348.20 52.65,348.19 53.21,348.19 53.77,348.19 54.33,348.19 54.89,348.19 55.45,348.18 56.00,348.18 56.55,348.18 57.10,348.18 57.65,348.17 58.20,348.17 58.74,348.17 59.29,348.17 59.83,348.16 60.37,348.16 60.91,348.16 61.44,348.16 61.98,348.15 62.51,348.15 63.04,348.15 63.57,348.15 64.10,348.14 64.63,348.14 65.15,348.14 65.68,348.14 66.20,348.13 66.72,348.13 67.24,348.13 67.75,348.12 68.27,348.12 68.78,348.12 69.29,348.12 69.80,348.11 70.31,348.11 70.82,348.11 71.32,348.10 71.83,348.10 72.33,348.10 72.83,348.09 73.33,348.09 73.82,348.09 74.32,348.08 74.81,348.08 75.30,348.08 75.79,348.07 76.28,348.07 76.77,348.07 77.25,348.06 77.73,348.06 78.22,348.06 78.70,348.05 79.17,348.05 79.65,348.04 80.13,348.04 80.60,348.04 81.07,348.03 81.54,348.03 82.01,348.03 82.47,348.02 82.94,348.02 83.40,348.01 83.87,348.01 84.33,348.01 84.78,348.00 85.24,348.00 85.70,347.99 86.15,347.99 86.60,347.98 87.05,347.98 87.50,347.98 87.95,347.97 88.39,347.97 88.84,347.96 89.28,347.96 89.72,347.95 90.16,347.95 90.59,347.94 91.03,347.94 91.46,347.93 91.90,347.93 92.33,347.92 92.76,347.92 93.18,347.91 93.61,347.91 94.03,347.90 94.45,347.90 94.88,347.89 95.29,347.89 95.71,347.88 96.13,347.88 96.54,347.87 96.96,347.86 97.37,347.86 97.78,347.85 98.18,347.85 98.59,347.84 99.00,347.83 99.40,347.83 99.80,347.82 100.20,347.82 100.60,347.81 100.99,347.80 101.39,347.80 101.78,347.79 102.18,347.78 102.57,347.78 102.95,347.77 103.34,347.76 103.73,347.76 104.11,347.75 104.49,347.74 104.87,347.73 105.25,347.73 105.63,347.72 106.01,347.71 106.38,347.71 106.75,347.70 107.12,347.69 107.49,347.68 107.86,347.67 108.23,347.67 108.59,347.66 108.96,347.65 109.32,347.64 109.68,347.63 110.04,347.62 110.39,347.62 110.75,347.61 111.10,347.60 111.45,347.59 111.80,347.58 112.15,347.57 112.50,347.56 112.85,347.55 113.19,347.54 113.53,347.53 113.88,347.52 114.21,347.51 114.55,347.50 114.89,347.49 115.22,347.48 115.56,347.47 115.89,347.46 116.22,347.45 116.55,347.44 116.88,347.43 117.20,347.42 117.52,347.41 117.85,347.40 118.17,347.39 118.49,347.38 118.81,347.36 119.12,347.35 119.44,347.34 119.75,347.33 120.06,347.32 120.37,347.30 120.68,347.29 120.99,347.28 121.29,347.26 121.60,347.25 121.90,347.24 122.20,347.22 122.50,347.21 122.80,347.20 123.09,347.18 123.39,347.17 123.68,347.15 123.97,347.14 124.26,347.13 124.55,347.11 124.84,347.10 125.12,347.08 125.41,347.06 125.69,347.05 125.97,347.03 126.25,347.02 126.53,347.00 126.81,346.98 127.08,346.97 127.35,346.95 127.63,346.93 127.90,346.91 128.17,346.90 128.43,346.88 128.70,346.86 128.96,346.84 129.23,346.82 129.49,346.80 129.75,346.79 130.01,346.77 130.26,346.75 130.52,346.73 130.77,346.71 131.03,346.68 131.28,346.66 131.53,346.64 131.77,346.62 132.02,346.60 132.27,346.58 132.51,346.55 132.75,346.53 132.99,346.51 133.23,346.49 133.47,346.46 133.71,346.44 133.94,346.41 134.17,346.39 134.41,346.36 134.64,346.34 134.86,346.31 135.09,346.29 135.32,346.26 135.54,346.23 135.77,346.20 135.99,346.18 136.21,346.15 136.43,346.12 136.64,346.09 136.86,346.06 137.07,346.03 137.29,346.00 137.50,345.97 137.71,345.94 137.92,345.91 138.12,345.87 138.33,345.84 138.53,345.81 138.74,345.77 138.94,345.74 139.14,345.70 139.34,345.67 139.53,345.63 139.73,345.60 139.92,345.56 140.11,345.52 140.31,345.48 140.50,345.44 140.68,345.40 140.87,345.36 141.06,345.32 141.24,345.28 141.42,345.24 141.61,345.20 141.79,345.15 141.96,345.11 142.14,345.06 142.32,345.02 142.49,344.97 142.66,344.92 142.84,344.87 143.01,344.83 143.18,344.78 143.34,344.73 143.51,344.67 143.67,344.62 143.84,344.57 144.00,344.51 144.16,344.46 144.32,344.40 144.48,344.35 144.63,344.29 144.79,344.23 144.94,344.17 145.09,344.11 145.24,344.04 145.39,343.98 145.54,343.92 145.69,343.85 145.83,343.78 145.98,343.72 146.12,343.65 146.26,343.58 146.40,343.50 146.54,343.43 146.68,343.35 146.81,343.28 146.95,343.20 147.08,343.12 147.21,343.04 147.35,342.96 147.47,342.87 147.60,342.79 147.73,342.70 147.85,342.61 147.98,342.52 148.10,342.43 148.22,342.34 148.34,342.24 148.46,342.14 148.58,342.04 148.69,341.94 148.81,341.83 148.92,341.73 149.03,341.62 149.15,341.51 149.26,341.39 149.36,341.28 149.47,341.16 149.58,341.04 149.68,340.91 149.78,340.79 149.89,340.66 149.99,340.53 150.09,340.39 150.18,340.25 150.28,340.11 150.38,339.97 150.47,339.82 150.56,339.67 150.65,339.51 150.75,339.35 150.83,339.19 150.92,339.03 151.01,338.86 151.09,338.68 151.18,338.50 151.26,338.32 151.34,338.13 151.42,337.94 151.50,337.74 151.58,337.54 151.66,337.33 151.73,337.12 151.81,336.90 151.88,336.68 151.95,336.45 152.02,336.21 152.09,335.97 152.16,335.72 152.23,335.46 152.30,335.20 152.36,334.93 152.42,334.65 152.49,334.36 152.55,334.07 152.61,333.77 152.67,333.45 152.72,333.13 152.78,332.80 152.84,332.46 152.89,332.11 152.94,331.75 153.00,331.38 153.05,331.00 153.10,330.61 153.14,330.20 153.19,329.78 153.24,329.35 153.28,328.91 153.33,328.45 153.37,327.97 153.41,327.49 153.45,326.98 153.49,326.46 153.53,325.93 153.57,325.38 153.60,324.81 153.64,324.22 153.67,323.62 153.71,322.99 153.74,322.35 153.77,321.69 153.80,321.01 153.83,320.31 153.86,319.59 153.88,318.85 153.91,318.09 153.94,317.31 153.96,316.52 153.98,315.71 154.00,314.87 154.02,314.03 154.04,313.17 154.06,312.30 154.08,311.42 154.10,310.53 154.11,309.64 154.13,308.75 154.14,307.86 154.16,306.98 154.17,306.11 154.18,305.26 154.19,304.43 154.20,303.64 154.21,302.88 154.22,302.16 154.23,301.49 154.23,300.87 154.24,300.31 154.24,299.82 154.25,299.39 154.25,299.03 154.25,298.75 154.25,298.53 154.26,298.39 154.26,298.31 154.26,298.28 154.63,354.80 231.87,354.80 232.24,298.28 232.24,298.31 232.24,298.39 232.25,298.53 232.25,298.75 232.25,299.03 232.25,299.39 232.26,299.82 232.26,300.31 232.27,300.87 232.27,301.49 232.28,302.16 232.29,302.88 232.30,303.64 232.31,304.43 232.32,305.26 232.33,306.11 232.34,306.98 232.36,307.86 232.37,308.75 232.39,309.64 232.40,310.53 232.42,311.42 232.44,312.30 232.46,313.17 232.48,314.03 232.50,314.87 232.52,315.71 232.54,316.52 232.56,317.31 232.59,318.09 232.62,318.85 232.64,319.59 232.67,320.31 232.70,321.01 232.73,321.69 232.76,322.35 232.79,322.99 232.83,323.62 232.86,324.22 232.90,324.81 232.93,325.38 232.97,325.93 233.01,326.46 233.05,326.98 233.09,327.49 233.13,327.97 233.17,328.45 233.22,328.91 233.26,329.35 233.31,329.78 233.36,330.20 233.40,330.61 233.45,331.00 233.50,331.38 233.56,331.75 233.61,332.11 233.66,332.46 233.72,332.80 233.78,333.13 233.83,333.45 233.89,333.77 233.95,334.07 234.01,334.36 234.08,334.65 234.14,334.93 234.20,335.20 234.27,335.46 234.34,335.72 234.41,335.97 234.48,336.21 234.55,336.45 234.62,336.68 234.69,336.90 234.77,337.12 234.84,337.33 234.92,337.54 235.00,337.74 235.08,337.94 235.16,338.13 235.24,338.32 235.32,338.50 235.41,338.68 235.49,338.86 235.58,339.03 235.67,339.19 235.75,339.35 235.85,339.51 235.94,339.67 236.03,339.82 236.12,339.97 236.22,340.11 236.32,340.25 236.41,340.39 236.51,340.53 236.61,340.66 236.72,340.79 236.82,340.91 236.92,341.04 237.03,341.16 237.14,341.28 237.24,341.39 237.35,341.51 237.47,341.62 237.58,341.73 237.69,341.83 237.81,341.94 237.92,342.04 238.04,342.14 238.16,342.24 238.28,342.34 238.40,342.43 238.52,342.52 238.65,342.61 238.77,342.70 238.90,342.79 239.03,342.87 239.15,342.96 239.29,343.04 239.42,343.12 239.55,343.20 239.69,343.28 239.82,343.35 239.96,343.43 240.10,343.50 240.24,343.58 240.38,343.65 240.52,343.72 240.67,343.78 240.81,343.85 240.96,343.92 241.11,343.98 241.26,344.04 241.41,344.11 241.56,344.17 241.71,344.23 241.87,344.29 242.02,344.35 242.18,344.40 242.34,344.46 242.50,344.51 242.66,344.57 242.83,344.62 242.99,344.67 243.16,344.73 243.32,344.78 243.49,344.83 243.66,344.87 243.84,344.92 244.01,344.97 244.18,345.02 244.36,345.06 244.54,345.11 244.71,345.15 244.89,345.20 245.08,345.24 245.26,345.28 245.44,345.32 245.63,345.36 245.82,345.40 246.00,345.44 246.19,345.48 246.39,345.52 246.58,345.56 246.77,345.60 246.97,345.63 247.16,345.67 247.36,345.70 247.56,345.74 247.76,345.77 247.97,345.81 248.17,345.84 248.38,345.87 248.58,345.91 248.79,345.94 249.00,345.97 249.21,346.00 249.43,346.03 249.64,346.06 249.86,346.09 250.07,346.12 250.29,346.15 250.51,346.18 250.73,346.20 250.96,346.23 251.18,346.26 251.41,346.29 251.64,346.31 251.86,346.34 252.09,346.36 252.33,346.39 252.56,346.41 252.79,346.44 253.03,346.46 253.27,346.49 253.51,346.51 253.75,346.53 253.99,346.55 254.23,346.58 254.48,346.60 254.73,346.62 254.97,346.64 255.22,346.66 255.47,346.68 255.73,346.71 255.98,346.73 256.24,346.75 256.49,346.77 256.75,346.79 257.01,346.80 257.27,346.82 257.54,346.84 257.80,346.86 258.07,346.88 258.33,346.90 258.60,346.91 258.87,346.93 259.15,346.95 259.42,346.97 259.69,346.98 259.97,347.00 260.25,347.02 260.53,347.03 260.81,347.05 261.09,347.06 261.38,347.08 261.66,347.10 261.95,347.11 262.24,347.13 262.53,347.14 262.82,347.15 263.11,347.17 263.41,347.18 263.70,347.20 264.00,347.21 264.30,347.22 264.60,347.24 264.90,347.25 265.21,347.26 265.51,347.28 265.82,347.29 266.13,347.30 266.44,347.32 266.75,347.33 267.06,347.34 267.38,347.35 267.69,347.36 268.01,347.38 268.33,347.39 268.65,347.40 268.98,347.41 269.30,347.42 269.62,347.43 269.95,347.44 270.28,347.45 270.61,347.46 270.94,347.47 271.28,347.48 271.61,347.49 271.95,347.50 272.29,347.51 272.62,347.52 272.97,347.53 273.31,347.54 273.65,347.55 274.00,347.56 274.35,347.57 274.70,347.58 275.05,347.59 275.40,347.60 275.75,347.61 276.11,347.62 276.46,347.62 276.82,347.63 277.18,347.64 277.54,347.65 277.91,347.66 278.27,347.67 278.64,347.67 279.01,347.68 279.38,347.69 279.75,347.70 280.12,347.71 280.49,347.71 280.87,347.72 281.25,347.73 281.63,347.73 282.01,347.74 282.39,347.75 282.77,347.76 283.16,347.76 283.55,347.77 283.93,347.78 284.32,347.78 284.72,347.79 285.11,347.80 285.51,347.80 285.90,347.81 286.30,347.82 286.70,347.82 287.10,347.83 287.50,347.83 287.91,347.84 288.32,347.85 288.72,347.85 289.13,347.86 289.54,347.86 289.96,347.87 290.37,347.88 290.79,347.88 291.21,347.89 291.62,347.89 292.05,347.90 292.47,347.90 292.89,347.91 293.32,347.91 293.74,347.92 294.17,347.92 294.60,347.93 295.04,347.93 295.47,347.94 295.91,347.94 296.34,347.95 296.78,347.95 297.22,347.96 297.66,347.96 298.11,347.97 298.55,347.97 299.00,347.98 299.45,347.98 299.90,347.98 300.35,347.99 300.80,347.99 301.26,348.00 301.72,348.00 302.17,348.01 302.63,348.01 303.10,348.01 303.56,348.02 304.03,348.02 304.49,348.03 304.96,348.03 305.43,348.03 305.90,348.04 306.37,348.04 306.85,348.04 307.33,348.05 307.80,348.05 308.28,348.06 308.77,348.06 309.25,348.06 309.73,348.07 310.22,348.07 310.71,348.07 311.20,348.08 311.69,348.08 312.18,348.08 312.68,348.09 313.17,348.09 313.67,348.09 314.17,348.10 314.67,348.10 315.18,348.10 315.68,348.11 316.19,348.11 316.70,348.11 317.21,348.12 317.72,348.12 318.23,348.12 318.75,348.12 319.26,348.13 319.78,348.13 320.30,348.13 320.82,348.14 321.35,348.14 321.87,348.14 322.40,348.14 322.93,348.15 323.46,348.15 323.99,348.15 324.52,348.15 325.06,348.16 325.59,348.16 326.13,348.16 326.67,348.16 327.21,348.17 327.76,348.17 328.30,348.17 328.85,348.17 329.40,348.18 329.95,348.18 330.50,348.18 331.05,348.18 331.61,348.19 332.17,348.19 332.73,348.19 333.29,348.19 333.85,348.19 334.41,348.20 334.98,348.20 335.54,348.20 336.11,348.20 336.68,348.20 337.26,348.21 337.83,348.21 338.41,348.21 338.98,348.21 339.56,348.21 340.14,348.22 340.73,348.22 341.31,348.22 341.90,348.22 342.49,348.22 343.08,348.23 343.67,348.23 344.26,348.23 344.85,348.23 345.45,348.23 346.05,348.24 346.65,348.24 347.25,348.24" fill="none" stroke="#111111" stroke-width="1.05" stroke-linejoin="miter" stroke-miterlimit="20"/>
<polyline points="39.25,348.80 39.85,348.85 40.45,348.91 41.04,348.97 41.64,349.03 42.23,349.10 42.82,349.18 43.41,349.27 44.00,349.36 44.58,349.46 45.17,349.57 45.75,349.69 46.33,349.82 46.91,349.96 47.49,350.12 48.06,350.29 48.64,350.47 49.21,350.67 49.78,350.88 50.35,351.12 50.92,351.37 51.48,351.65 52.05,351.94 52.61,352.27 53.17,352.62 53.73,353.00 54.28,353.41 54.84,353.86 55.39,354.34 55.94,354.74 56.49,354.23 57.04,353.76 57.59,353.32 58.14,352.92 58.68,352.56 59.22,352.22 59.76,351.91 60.30,351.62 60.84,351.35 61.37,351.11 61.90,350.88 62.44,350.68 62.97,350.48 63.49,350.31 64.02,350.14 64.55,349.99 65.07,349.85 65.59,349.72 66.11,349.60 66.63,349.49 67.14,349.39 67.66,349.29 68.17,349.21 68.68,349.12 69.19,349.05 69.70,348.98 70.21,348.91 70.71,348.85 71.22,348.79 71.72,348.74 72.22,348.69 72.72,348.65 73.21,348.60 73.71,348.57 74.20,348.53 74.69,348.49 75.18,348.46 75.67,348.43 76.16,348.40 76.64,348.38 77.13,348.35 77.61,348.33 78.09,348.30 78.57,348.28 79.04,348.26 79.52,348.25 79.99,348.23 80.46,348.21 80.93,348.20 81.40,348.18 81.87,348.17 82.33,348.15 82.80,348.14 83.26,348.13 83.72,348.12 84.18,348.10 84.63,348.09 85.09,348.08 85.54,348.07 85.99,348.06 86.45,348.05 86.89,348.04 87.34,348.03 87.79,348.03 88.23,348.02 88.67,348.01 89.11,348.00 89.55,347.99 89.99,347.99 90.43,347.98 90.86,347.97 91.29,347.96 91.72,347.96 92.15,347.95 92.58,347.94 93.01,347.93 93.43,347.93 93.85,347.92 94.27,347.91 94.69,347.91 95.11,347.90 95.53,347.89 95.94,347.89 96.35,347.88 96.77,347.87 97.18,347.87 97.58,347.86 97.99,347.85 98.40,347.85 98.80,347.84 99.20,347.83 99.60,347.82 100.00,347.82 100.40,347.81 100.79,347.80 101.19,347.80 101.58,347.79 101.97,347.78 102.36,347.78 102.74,347.77 103.13,347.76 103.51,347.75 103.90,347.75 104.28,347.74 104.66,347.73 105.04,347.72 105.41,347.72 105.79,347.71 106.16,347.70 106.53,347.69 106.90,347.68 107.27,347.68 107.64,347.67 108.00,347.66 108.36,347.65 108.73,347.64 109.09,347.63 109.45,347.63 109.80,347.62 110.16,347.61 110.51,347.60 110.87,347.59 111.22,347.58 111.57,347.57 111.91,347.56 112.26,347.55 112.61,347.54 112.95,347.53 113.29,347.52 113.63,347.51 113.97,347.50 114.31,347.49 114.64,347.48 114.97,347.47 115.31,347.46 115.64,347.45 115.97,347.44 116.29,347.43 116.62,347.42 116.94,347.41 117.27,347.40 117.59,347.39 117.91,347.38 118.23,347.36 118.54,347.35 118.86,347.34 119.17,347.33 119.49,347.32 119.80,347.30 120.10,347.29 120.41,347.28 120.72,347.26 121.02,347.25 121.33,347.24 121.63,347.23 121.93,347.21 122.23,347.20 122.52,347.18 122.82,347.17 123.11,347.16 123.40,347.14 123.69,347.13 123.98,347.11 124.27,347.10 124.56,347.08 124.84,347.07 125.13,347.05 125.41,347.03 125.69,347.02 125.97,347.00 126.24,346.99 126.52,346.97 126.79,346.95 127.07,346.93 127.34,346.92 127.61,346.90 127.87,346.88 128.14,346.86 128.41,346.85 128.67,346.83 128.93,346.81 129.19,346.79 129.45,346.77 129.71,346.75 129.96,346.73 130.22,346.71 130.47,346.69 130.72,346.67 130.97,346.65 131.22,346.63 131.47,346.60 131.72,346.58 131.96,346.56 132.20,346.54 132.44,346.52 132.68,346.49 132.92,346.47 133.16,346.44 133.40,346.42 133.63,346.40 133.86,346.37 134.09,346.35 134.32,346.32 134.55,346.29 134.78,346.27 135.00,346.24 135.23,346.21 135.45,346.19 135.67,346.16 135.89,346.13 136.11,346.10 136.32,346.07 136.54,346.04 136.75,346.01 136.96,345.98 137.17,345.95 137.38,345.92 137.59,345.89 137.80,345.86 138.00,345.82 138.21,345.79 138.41,345.76 138.61,345.72 138.81,345.69 139.01,345.65 139.20,345.61 139.40,345.58 139.59,345.54 139.78,345.50 139.97,345.46 140.16,345.43 140.35,345.39 140.54,345.35 140.72,345.30 140.91,345.26 141.09,345.22 141.27,345.18 141.45,345.13 141.63,345.09 141.80,345.04 141.98,345.00 142.15,344.95 142.33,344.91 142.50,344.86 142.67,344.81 142.83,344.76 143.00,344.71 143.17,344.66 143.33,344.60 143.49,344.55 143.65,344.50 143.81,344.44 143.97,344.39 144.13,344.33 144.29,344.27 144.44,344.21 144.59,344.15 144.75,344.09 144.90,344.03 145.05,343.97 145.19,343.90 145.34,343.84 145.48,343.77 145.63,343.70 145.77,343.63 145.91,343.56 146.05,343.49 146.19,343.42 146.33,343.35 146.46,343.27 146.60,343.19 146.73,343.11 146.86,343.03 146.99,342.95 147.12,342.87 147.25,342.78 147.37,342.70 147.50,342.61 147.62,342.52 147.74,342.43 147.86,342.34 147.98,342.24 148.10,342.14 148.22,342.04 148.33,341.94 148.45,341.84 148.56,341.73 148.67,341.63 148.78,341.52 148.89,341.41 149.00,341.29 149.11,341.17 149.21,341.06 149.32,340.93 149.42,340.81 149.52,340.68 149.62,340.55 149.72,340.42 149.82,340.28 149.92,340.15 150.01,340.00 150.10,339.86 150.20,339.71 150.29,339.56 150.38,339.40 150.47,339.25 150.56,339.08 150.64,338.92 150.73,338.75 150.81,338.57 150.89,338.39 150.98,338.21 151.06,338.03 151.13,337.83 151.21,337.64 151.29,337.44 151.36,337.23 151.44,337.02 151.51,336.80 151.58,336.58 151.65,336.35 151.72,336.12 151.79,335.88 151.86,335.63 151.92,335.38 151.99,335.12 152.05,334.85 152.11,334.58 152.18,334.30 152.24,334.01 152.29,333.72 152.35,333.41 152.41,333.10 152.46,332.78 152.52,332.45 152.57,332.11 152.62,331.76 152.67,331.40 152.72,331.04 152.77,330.66 152.82,330.27 152.86,329.87 152.91,329.46 152.95,329.03 153.00,328.60 153.04,328.15 153.08,327.69 153.12,327.22 153.16,326.74 153.19,326.24 153.23,325.73 153.26,325.20 153.30,324.66 153.33,324.11 153.36,323.55 153.39,322.97 153.42,322.37 153.45,321.77 153.48,321.15 153.51,320.51 153.53,319.87 153.56,319.21 153.58,318.54 153.61,317.87 153.63,317.18 153.65,316.49 153.67,315.79 153.69,315.08 153.70,314.38 153.72,313.68 153.74,312.98 153.75,312.28 153.77,311.60 153.78,310.93 153.79,310.27 153.80,309.63 153.81,309.02 153.82,308.43 153.83,307.88 153.84,307.36 153.85,306.88 153.85,306.44 153.86,306.05 153.86,305.70 153.87,305.40 153.87,305.15 153.87,304.95 153.88,304.80 153.88,304.70 153.88,304.65 153.88,304.64 154.32,354.80 232.18,354.80 232.62,304.64 232.62,304.65 232.62,304.70 232.62,304.80 232.63,304.95 232.63,305.15 232.63,305.40 232.64,305.70 232.64,306.05 232.65,306.44 232.65,306.88 232.66,307.36 232.67,307.88 232.68,308.43 232.69,309.02 232.70,309.63 232.71,310.27 232.72,310.93 232.73,311.60 232.75,312.28 232.76,312.98 232.78,313.68 232.80,314.38 232.81,315.08 232.83,315.79 232.85,316.49 232.87,317.18 232.89,317.87 232.92,318.54 232.94,319.21 232.97,319.87 232.99,320.51 233.02,321.15 233.05,321.77 233.08,322.37 233.11,322.97 233.14,323.55 233.17,324.11 233.20,324.66 233.24,325.20 233.27,325.73 233.31,326.24 233.34,326.74 233.38,327.22 233.42,327.69 233.46,328.15 233.50,328.60 233.55,329.03 233.59,329.46 233.64,329.87 233.68,330.27 233.73,330.66 233.78,331.04 233.83,331.40 233.88,331.76 233.93,332.11 233.98,332.45 234.04,332.78 234.09,333.10 234.15,333.41 234.21,333.72 234.26,334.01 234.32,334.30 234.39,334.58 234.45,334.85 234.51,335.12 234.58,335.38 234.64,335.63 234.71,335.88 234.78,336.12 234.85,336.35 234.92,336.58 234.99,336.80 235.06,337.02 235.14,337.23 235.21,337.44 235.29,337.64 235.37,337.83 235.44,338.03 235.52,338.21 235.61,338.39 235.69,338.57 235.77,338.75 235.86,338.92 235.94,339.08 236.03,339.25 236.12,339.40 236.21,339.56 236.30,339.71 236.40,339.86 236.49,340.00 236.58,340.15 236.68,340.28 236.78,340.42 236.88,340.55 236.98,340.68 237.08,340.81 237.18,340.93 237.29,341.06 237.39,341.17 237.50,341.29 237.61,341.41 237.72,341.52 237.83,341.63 237.94,341.73 238.05,341.84 238.17,341.94 238.28,342.04 238.40,342.14 238.52,342.24 238.64,342.34 238.76,342.43 238.88,342.52 239.00,342.61 239.13,342.70 239.25,342.78 239.38,342.87 239.51,342.95 239.64,343.03 239.77,343.11 239.90,343.19 240.04,343.27 240.17,343.35 240.31,343.42 240.45,343.49 240.59,343.56 240.73,343.63 240.87,343.70 241.02,343.77 241.16,343.84 241.31,343.90 241.45,343.97 241.60,344.03 241.75,344.09 241.91,344.15 242.06,344.21 242.21,344.27 242.37,344.33 242.53,344.39 242.69,344.44 242.85,344.50 243.01,344.55 243.17,344.60 243.33,344.66 243.50,344.71 243.67,344.76 243.83,344.81 244.00,344.86 244.17,344.91 244.35,344.95 244.52,345.00 244.70,345.04 244.87,345.09 245.05,345.13 245.23,345.18 245.41,345.22 245.59,345.26 245.78,345.30 245.96,345.35 246.15,345.39 246.34,345.43 246.53,345.46 246.72,345.50 246.91,345.54 247.10,345.58 247.30,345.61 247.49,345.65 247.69,345.69 247.89,345.72 248.09,345.76 248.29,345.79 248.50,345.82 248.70,345.86 248.91,345.89 249.12,345.92 249.33,345.95 249.54,345.98 249.75,346.01 249.96,346.04 250.18,346.07 250.39,346.10 250.61,346.13 250.83,346.16 251.05,346.19 251.27,346.21 251.50,346.24 251.72,346.27 251.95,346.29 252.18,346.32 252.41,346.35 252.64,346.37 252.87,346.40 253.10,346.42 253.34,346.44 253.58,346.47 253.82,346.49 254.06,346.52 254.30,346.54 254.54,346.56 254.78,346.58 255.03,346.60 255.28,346.63 255.53,346.65 255.78,346.67 256.03,346.69 256.28,346.71 256.54,346.73 256.79,346.75 257.05,346.77 257.31,346.79 257.57,346.81 257.83,346.83 258.09,346.85 258.36,346.86 258.63,346.88 258.89,346.90 259.16,346.92 259.43,346.93 259.71,346.95 259.98,346.97 260.26,346.99 260.53,347.00 260.81,347.02 261.09,347.03 261.37,347.05 261.66,347.07 261.94,347.08 262.23,347.10 262.52,347.11 262.81,347.13 263.10,347.14 263.39,347.16 263.68,347.17 263.98,347.18 264.27,347.20 264.57,347.21 264.87,347.23 265.17,347.24 265.48,347.25 265.78,347.26 266.09,347.28 266.40,347.29 266.70,347.30 267.01,347.32 267.33,347.33 267.64,347.34 267.96,347.35 268.27,347.36 268.59,347.38 268.91,347.39 269.23,347.40 269.56,347.41 269.88,347.42 270.21,347.43 270.53,347.44 270.86,347.45 271.19,347.46 271.53,347.47 271.86,347.48 272.19,347.49 272.53,347.50 272.87,347.51 273.21,347.52 273.55,347.53 273.89,347.54 274.24,347.55 274.59,347.56 274.93,347.57 275.28,347.58 275.63,347.59 275.99,347.60 276.34,347.61 276.70,347.62 277.05,347.63 277.41,347.63 277.77,347.64 278.14,347.65 278.50,347.66 278.86,347.67 279.23,347.68 279.60,347.68 279.97,347.69 280.34,347.70 280.71,347.71 281.09,347.72 281.46,347.72 281.84,347.73 282.22,347.74 282.60,347.75 282.99,347.75 283.37,347.76 283.76,347.77 284.14,347.78 284.53,347.78 284.92,347.79 285.31,347.80 285.71,347.80 286.10,347.81 286.50,347.82 286.90,347.82 287.30,347.83 287.70,347.84 288.10,347.85 288.51,347.85 288.92,347.86 289.32,347.87 289.73,347.87 290.15,347.88 290.56,347.89 290.97,347.89 291.39,347.90 291.81,347.91 292.23,347.91 292.65,347.92 293.07,347.93 293.49,347.93 293.92,347.94 294.35,347.95 294.78,347.96 295.21,347.96 295.64,347.97 296.07,347.98 296.51,347.99 296.95,347.99 297.39,348.00 297.83,348.01 298.27,348.02 298.71,348.03 299.16,348.03 299.61,348.04 300.05,348.05 300.51,348.06 300.96,348.07 301.41,348.08 301.87,348.09 302.32,348.10 302.78,348.12 303.24,348.13 303.70,348.14 304.17,348.15 304.63,348.17 305.10,348.18 305.57,348.20 306.04,348.21 306.51,348.23 306.98,348.25 307.46,348.26 307.93,348.28 308.41,348.30 308.89,348.33 309.37,348.35 309.86,348.38 310.34,348.40 310.83,348.43 311.32,348.46 311.81,348.49 312.30,348.53 312.79,348.57 313.29,348.60 313.78,348.65 314.28,348.69 314.78,348.74 315.28,348.79 315.79,348.85 316.29,348.91 316.80,348.98 317.31,349.05 317.82,349.12 318.33,349.21 318.84,349.29 319.36,349.39 319.87,349.49 320.39,349.60 320.91,349.72 321.43,349.85 321.95,349.99 322.48,350.14 323.01,350.31 323.53,350.48 324.06,350.68 324.60,350.88 325.13,351.11 325.66,351.35 326.20,351.62 326.74,351.91 327.28,352.22 327.82,352.56 328.36,352.92 328.91,353.32 329.46,353.76 330.01,354.23 330.56,354.74 331.11,354.34 331.66,353.86 332.22,353.41 332.77,353.00 333.33,352.62 333.89,352.27 334.45,351.94 335.02,351.65 335.58,351.37 336.15,351.12 336.72,350.88 337.29,350.67 337.86,350.47 338.44,350.29 339.01,350.12 339.59,349.96 340.17,349.82 340.75,349.69 341.33,349.57 341.92,349.46 342.50,349.36 343.09,349.27 343.68,349.18 344.27,349.10 344.86,349.03 345.46,348.97 346.05,348.91 346.65,348.85 347.25,348.80" fill="none" stroke="#1a1aff" stroke-width="1.05" stroke-linejoin="miter" stroke-miterlimit="20"/>
<polyline points="39.25,348.25 39.85,348.25 40.46,348.24 41.06,348.24 41.66,348.24 42.26,348.24 42.85,348.24 43.45,348.23 44.04,348.23 44.63,348.23 45.22,348.23 45.80,348.23 46.39,348.23 46.97,348.22 47.56,348.22 48.14,348.22 48.71,348.22 49.29,348.22 49.87,348.21 50.44,348.21 51.01,348.21 51.58,348.21 52.15,348.21 52.72,348.20 53.28,348.20 53.85,348.20 54.41,348.20 54.97,348.20 55.53,348.19 56.08,348.19 56.64,348.19 57.19,348.19 57.74,348.18 58.29,348.18 58.84,348.18 59.38,348.18 59.93,348.17 60.47,348.17 61.01,348.17 61.55,348.17 62.09,348.16 62.63,348.16 63.16,348.16 63.69,348.16 64.22,348.15 64.75,348.15 65.28,348.15 65.81,348.15 66.33,348.14 66.85,348.14 67.37,348.14 67.89,348.14 68.41,348.13 68.93,348.13 69.44,348.13 69.95,348.12 70.46,348.12 70.97,348.12 71.48,348.12 71.98,348.11 72.49,348.11 72.99,348.11 73.49,348.10 73.99,348.10 74.49,348.10 74.98,348.09 75.48,348.09 75.97,348.09 76.46,348.08 76.95,348.08 77.44,348.08 77.92,348.07 78.41,348.07 78.89,348.07 79.37,348.06 79.85,348.06 80.32,348.06 80.80,348.05 81.27,348.05 81.75,348.04 82.22,348.04 82.69,348.04 83.15,348.03 83.62,348.03 84.08,348.03 84.55,348.02 85.01,348.02 85.46,348.01 85.92,348.01 86.38,348.01 86.83,348.00 87.28,348.00 87.74,347.99 88.18,347.99 88.63,347.98 89.08,347.98 89.52,347.97 89.96,347.97 90.41,347.97 90.84,347.96 91.28,347.96 91.72,347.95 92.15,347.95 92.59,347.94 93.02,347.94 93.45,347.93 93.87,347.93 94.30,347.92 94.72,347.92 95.15,347.91 95.57,347.91 95.99,347.90 96.41,347.90 96.82,347.89 97.24,347.88 97.65,347.88 98.06,347.87 98.47,347.87 98.88,347.86 99.29,347.86 99.69,347.85 100.10,347.84 100.50,347.84 100.90,347.83 101.30,347.83 101.69,347.82 102.09,347.81 102.48,347.81 102.87,347.80 103.26,347.79 103.65,347.79 104.04,347.78 104.43,347.77 104.81,347.77 105.19,347.76 105.57,347.75 105.95,347.75 106.33,347.74 106.71,347.73 107.08,347.72 107.46,347.72 107.83,347.71 108.20,347.70 108.56,347.69 108.93,347.68 109.30,347.68 109.66,347.67 110.02,347.66 110.38,347.65 110.74,347.64 111.10,347.64 111.45,347.63 111.81,347.62 112.16,347.61 112.51,347.60 112.86,347.59 113.21,347.58 113.55,347.57 113.90,347.56 114.24,347.56 114.58,347.55 114.92,347.54 115.26,347.53 115.59,347.52 115.93,347.51 116.26,347.50 116.60,347.49 116.93,347.48 117.25,347.47 117.58,347.45 117.91,347.44 118.23,347.43 118.55,347.42 118.87,347.41 119.19,347.40 119.51,347.39 119.83,347.38 120.14,347.36 120.46,347.35 120.77,347.34 121.08,347.33 121.39,347.32 121.69,347.30 122.00,347.29 122.30,347.28 122.60,347.26 122.91,347.25 123.20,347.24 123.50,347.22 123.80,347.21 124.09,347.20 124.39,347.18 124.68,347.17 124.97,347.15 125.26,347.14 125.54,347.12 125.83,347.11 126.11,347.09 126.40,347.08 126.68,347.06 126.96,347.05 127.23,347.03 127.51,347.01 127.78,347.00 128.06,346.98 128.33,346.96 128.60,346.95 128.87,346.93 129.14,346.91 129.40,346.89 129.67,346.88 129.93,346.86 130.19,346.84 130.45,346.82 130.71,346.80 130.96,346.78 131.22,346.76 131.47,346.74 131.73,346.72 131.98,346.70 132.23,346.68 132.47,346.66 132.72,346.64 132.96,346.62 133.21,346.59 133.45,346.57 133.69,346.55 133.93,346.52 134.17,346.50 134.40,346.48 134.64,346.45 134.87,346.43 135.10,346.40 135.33,346.38 135.56,346.35 135.79,346.33 136.01,346.30 136.24,346.28 136.46,346.25 136.68,346.22 136.90,346.19 137.12,346.17 137.33,346.14 137.55,346.11 137.76,346.08 137.98,346.05 138.19,346.02 138.40,345.99 138.61,345.96 138.81,345.92 139.02,345.89 139.22,345.86 139.42,345.83 139.62,345.79 139.82,345.76 140.02,345.72 140.22,345.69 140.41,345.65 140.61,345.61 140.80,345.58 140.99,345.54 141.18,345.50 141.37,345.46 141.55,345.42 141.74,345.38 141.92,345.34 142.11,345.30 142.29,345.26 142.47,345.22 142.64,345.17 142.82,345.13 143.00,345.08 143.17,345.04 143.34,344.99 143.51,344.94 143.68,344.90 143.85,344.85 144.02,344.80 144.18,344.75 144.35,344.70 144.51,344.64 144.67,344.59 144.83,344.54 144.99,344.48 145.15,344.43 145.30,344.37 145.46,344.31 145.61,344.25 145.76,344.19 145.91,344.13 146.06,344.07 146.21,344.01 146.35,343.94 146.50,343.88 146.64,343.81 146.78,343.74 146.93,343.67 147.06,343.60 147.20,343.53 147.34,343.46 147.47,343.39 147.61,343.31 147.74,343.23 147.87,343.15 148.00,343.07 148.13,342.99 148.26,342.91 148.38,342.83 148.51,342.74 148.63,342.65 148.75,342.56 148.87,342.47 148.99,342.38 149.11,342.28 149.23,342.18 149.34,342.09 149.46,341.98 149.57,341.88 149.68,341.78 149.79,341.67 149.90,341.56 150.01,341.45 150.11,341.33 150.22,341.22 150.32,341.10 150.43,340.98 150.53,340.85 150.63,340.73 150.73,340.60 150.82,340.46 150.92,340.33 151.01,340.19 151.11,340.05 151.20,339.91 151.29,339.76 151.38,339.61 151.47,339.45 151.55,339.30 151.64,339.13 151.72,338.97 151.81,338.80 151.89,338.63 151.97,338.45 152.05,338.27 152.13,338.08 152.21,337.89 152.28,337.70 152.36,337.50 152.43,337.30 152.50,337.09 152.57,336.87 152.64,336.65 152.71,336.43 152.78,336.20 152.85,335.96 152.91,335.72 152.98,335.47 153.04,335.22 153.10,334.96 153.16,334.69 153.22,334.42 153.28,334.14 153.33,333.85 153.39,333.55 153.44,333.25 153.50,332.94 153.55,332.62 153.60,332.29 153.65,331.96 153.70,331.61 153.75,331.26 153.79,330.90 153.84,330.53 153.88,330.15 153.93,329.76 153.97,329.36 154.01,328.95 154.05,328.53 154.09,328.10 154.13,327.66 154.16,327.21 154.20,326.75 154.23,326.28 154.27,325.80 154.30,325.31 154.33,324.81 154.36,324.30 154.39,323.78 154.42,323.26 154.44,322.72 154.47,322.18 154.49,321.64 154.52,321.08 154.54,320.52 154.56,319.96 154.58,319.40 154.60,318.83 154.62,318.27 154.64,317.71 154.66,317.15 154.68,316.60 154.69,316.06 154.70,315.53 154.72,315.01 154.73,314.51 154.74,314.03 154.75,313.57 154.76,313.13 154.77,312.71 154.78,312.33 154.79,311.98 154.79,311.65 154.80,311.37 154.80,311.12 154.81,310.90 154.81,310.72 154.81,310.58 154.82,310.47 154.82,310.40 154.82,310.36 154.82,310.35 155.34,354.80 231.16,354.80 231.68,310.35 231.68,310.36 231.68,310.40 231.68,310.47 231.69,310.58 231.69,310.72 231.69,310.90 231.70,311.12 231.70,311.37 231.71,311.65 231.71,311.98 231.72,312.33 231.73,312.71 231.74,313.13 231.75,313.57 231.76,314.03 231.77,314.51 231.78,315.01 231.80,315.53 231.81,316.06 231.82,316.60 231.84,317.15 231.86,317.71 231.88,318.27 231.90,318.83 231.92,319.40 231.94,319.96 231.96,320.52 231.98,321.08 232.01,321.64 232.03,322.18 232.06,322.72 232.08,323.26 232.11,323.78 232.14,324.30 232.17,324.81 232.20,325.31 232.23,325.80 232.27,326.28 232.30,326.75 232.34,327.21 232.37,327.66 232.41,328.10 232.45,328.53 232.49,328.95 232.53,329.36 232.57,329.76 232.62,330.15 232.66,330.53 232.71,330.90 232.75,331.26 232.80,331.61 232.85,331.96 232.90,332.29 232.95,332.62 233.00,332.94 233.06,333.25 233.11,333.55 233.17,333.85 233.22,334.14 233.28,334.42 233.34,334.69 233.40,334.96 233.46,335.22 233.52,335.47 233.59,335.72 233.65,335.96 233.72,336.20 233.79,336.43 233.86,336.65 233.93,336.87 234.00,337.09 234.07,337.30 234.14,337.50 234.22,337.70 234.29,337.89 234.37,338.08 234.45,338.27 234.53,338.45 234.61,338.63 234.69,338.80 234.78,338.97 234.86,339.13 234.95,339.30 235.03,339.45 235.12,339.61 235.21,339.76 235.30,339.91 235.39,340.05 235.49,340.19 235.58,340.33 235.68,340.46 235.77,340.60 235.87,340.73 235.97,340.85 236.07,340.98 236.18,341.10 236.28,341.22 236.39,341.33 236.49,341.45 236.60,341.56 236.71,341.67 236.82,341.78 236.93,341.88 237.04,341.98 237.16,342.09 237.27,342.18 237.39,342.28 237.51,342.38 237.63,342.47 237.75,342.56 237.87,342.65 237.99,342.74 238.12,342.83 238.24,342.91 238.37,342.99 238.50,343.07 238.63,343.15 238.76,343.23 238.89,343.31 239.03,343.39 239.16,343.46 239.30,343.53 239.44,343.60 239.57,343.67 239.72,343.74 239.86,343.81 240.00,343.88 240.15,343.94 240.29,344.01 240.44,344.07 240.59,344.13 240.74,344.19 240.89,344.25 241.04,344.31 241.20,344.37 241.35,344.43 241.51,344.48 241.67,344.54 241.83,344.59 241.99,344.64 242.15,344.70 242.32,344.75 242.48,344.80 242.65,344.85 242.82,344.90 242.99,344.94 243.16,344.99 243.33,345.04 243.50,345.08 243.68,345.13 243.86,345.17 244.03,345.22 244.21,345.26 244.39,345.30 244.58,345.34 244.76,345.38 244.95,345.42 245.13,345.46 245.32,345.50 245.51,345.54 245.70,345.58 245.89,345.61 246.09,345.65 246.28,345.69 246.48,345.72 246.68,345.76 246.88,345.79 247.08,345.83 247.28,345.86 247.48,345.89 247.69,345.92 247.89,345.96 248.10,345.99 248.31,346.02 248.52,346.05 248.74,346.08 248.95,346.11 249.17,346.14 249.38,346.17 249.60,346.19 249.82,346.22 250.04,346.25 250.26,346.28 250.49,346.30 250.71,346.33 250.94,346.35 251.17,346.38 251.40,346.40 251.63,346.43 251.86,346.45 252.10,346.48 252.33,346.50 252.57,346.52 252.81,346.55 253.05,346.57 253.29,346.59 253.54,346.62 253.78,346.64 254.03,346.66 254.27,346.68 254.52,346.70 254.77,346.72 255.03,346.74 255.28,346.76 255.54,346.78 255.79,346.80 256.05,346.82 256.31,346.84 256.57,346.86 256.83,346.88 257.10,346.89 257.36,346.91 257.63,346.93 257.90,346.95 258.17,346.96 258.44,346.98 258.72,347.00 258.99,347.01 259.27,347.03 259.54,347.05 259.82,347.06 260.10,347.08 260.39,347.09 260.67,347.11 260.96,347.12 261.24,347.14 261.53,347.15 261.82,347.17 262.11,347.18 262.41,347.20 262.70,347.21 263.00,347.22 263.30,347.24 263.59,347.25 263.90,347.26 264.20,347.28 264.50,347.29 264.81,347.30 265.11,347.32 265.42,347.33 265.73,347.34 266.04,347.35 266.36,347.36 266.67,347.38 266.99,347.39 267.31,347.40 267.63,347.41 267.95,347.42 268.27,347.43 268.59,347.44 268.92,347.45 269.25,347.47 269.57,347.48 269.90,347.49 270.24,347.50 270.57,347.51 270.91,347.52 271.24,347.53 271.58,347.54 271.92,347.55 272.26,347.56 272.60,347.56 272.95,347.57 273.29,347.58 273.64,347.59 273.99,347.60 274.34,347.61 274.69,347.62 275.05,347.63 275.40,347.64 275.76,347.64 276.12,347.65 276.48,347.66 276.84,347.67 277.20,347.68 277.57,347.68 277.94,347.69 278.30,347.70 278.67,347.71 279.04,347.72 279.42,347.72 279.79,347.73 280.17,347.74 280.55,347.75 280.93,347.75 281.31,347.76 281.69,347.77 282.07,347.77 282.46,347.78 282.85,347.79 283.24,347.79 283.63,347.80 284.02,347.81 284.41,347.81 284.81,347.82 285.20,347.83 285.60,347.83 286.00,347.84 286.40,347.84 286.81,347.85 287.21,347.86 287.62,347.86 288.03,347.87 288.44,347.87 288.85,347.88 289.26,347.88 289.68,347.89 290.09,347.90 290.51,347.90 290.93,347.91 291.35,347.91 291.78,347.92 292.20,347.92 292.63,347.93 293.05,347.93 293.48,347.94 293.91,347.94 294.35,347.95 294.78,347.95 295.22,347.96 295.66,347.96 296.09,347.97 296.54,347.97 296.98,347.97 297.42,347.98 297.87,347.98 298.32,347.99 298.76,347.99 299.22,348.00 299.67,348.00 300.12,348.01 300.58,348.01 301.04,348.01 301.49,348.02 301.95,348.02 302.42,348.03 302.88,348.03 303.35,348.03 303.81,348.04 304.28,348.04 304.75,348.04 305.23,348.05 305.70,348.05 306.18,348.06 306.65,348.06 307.13,348.06 307.61,348.07 308.09,348.07 308.58,348.07 309.06,348.08 309.55,348.08 310.04,348.08 310.53,348.09 311.02,348.09 311.52,348.09 312.01,348.10 312.51,348.10 313.01,348.10 313.51,348.11 314.01,348.11 314.52,348.11 315.02,348.12 315.53,348.12 316.04,348.12 316.55,348.12 317.06,348.13 317.57,348.13 318.09,348.13 318.61,348.14 319.13,348.14 319.65,348.14 320.17,348.14 320.69,348.15 321.22,348.15 321.75,348.15 322.28,348.15 322.81,348.16 323.34,348.16 323.87,348.16 324.41,348.16 324.95,348.17 325.49,348.17 326.03,348.17 326.57,348.17 327.12,348.18 327.66,348.18 328.21,348.18 328.76,348.18 329.31,348.19 329.86,348.19 330.42,348.19 330.97,348.19 331.53,348.20 332.09,348.20 332.65,348.20 333.22,348.20 333.78,348.20 334.35,348.21 334.92,348.21 335.49,348.21 336.06,348.21 336.63,348.21 337.21,348.22 337.79,348.22 338.36,348.22 338.94,348.22 339.53,348.22 340.11,348.23 340.70,348.23 341.28,348.23 341.87,348.23 342.46,348.23 343.05,348.23 343.65,348.24 344.24,348.24 344.84,348.24 345.44,348.24 346.04,348.24 346.65,348.25 347.25,348.25" fill="none" stroke="#a040c8" stroke-width="1.05" stroke-linejoin="miter" stroke-miterlimit="20"/>
<polyline points="39.25,348.26 39.86,348.26 40.47,348.26 41.07,348.26 41.68,348.26 42.28,348.26 42.88,348.26 43.48,348.26 44.08,348.26 44.67,348.26 45.27,348.26 45.86,348.26 46.45,348.26 47.04,348.26 47.63,348.26 48.21,348.26 48.80,348.26 49.38,348.26 49.96,348.26 50.54,348.26 51.11,348.27 51.69,348.27 52.26,348.27 52.83,348.27 53.40,348.28 53.97,348.28 54.54,348.29 55.10,348.29 55.67,348.30 56.23,348.30 56.79,348.31 57.34,348.32 57.90,348.32 58.45,348.33 59.01,348.34 59.56,348.35 60.11,348.36 60.65,348.38 61.20,348.39 61.74,348.41 62.29,348.42 62.83,348.44 63.37,348.46 63.90,348.48 64.44,348.51 64.97,348.53 65.50,348.56 66.03,348.59 66.56,348.62 67.09,348.66 67.62,348.70 68.14,348.74 68.66,348.78 69.18,348.83 69.70,348.89 70.22,348.94 70.73,349.00 71.25,349.07 71.76,349.14 72.27,349.22 72.78,349.30 73.28,349.39 73.79,349.49 74.29,349.59 74.79,349.70 75.29,349.82 75.79,349.95 76.29,350.09 76.78,350.23 77.27,350.39 77.77,350.56 78.26,350.75 78.74,350.94 79.23,351.16 79.71,351.38 80.20,351.62 80.68,351.88 81.16,352.16 81.64,352.46 82.11,352.78 82.59,353.12 83.06,353.49 83.53,353.88 84.00,354.30 84.47,354.74 84.94,354.40 85.40,353.98 85.86,353.59 86.32,353.22 86.78,352.88 87.24,352.56 87.70,352.26 88.15,351.98 88.61,351.73 89.06,351.48 89.51,351.26 89.96,351.05 90.40,350.85 90.85,350.66 91.29,350.49 91.73,350.33 92.17,350.18 92.61,350.04 93.05,349.90 93.48,349.78 93.91,349.66 94.34,349.55 94.77,349.45 95.20,349.35 95.63,349.26 96.05,349.18 96.48,349.10 96.90,349.02 97.32,348.95 97.74,348.88 98.15,348.82 98.57,348.76 98.98,348.70 99.39,348.65 99.80,348.60 100.21,348.55 100.62,348.51 101.03,348.46 101.43,348.42 101.83,348.38 102.23,348.35 102.63,348.31 103.03,348.28 103.42,348.25 103.82,348.22 104.21,348.19 104.60,348.16 104.99,348.13 105.38,348.11 105.76,348.08 106.15,348.06 106.53,348.04 106.91,348.02 107.29,348.00 107.67,347.98 108.04,347.96 108.42,347.94 108.79,347.92 109.16,347.90 109.53,347.88 109.90,347.87 110.27,347.85 110.63,347.83 110.99,347.82 111.36,347.80 111.72,347.79 112.08,347.77 112.43,347.77 112.79,347.79 113.14,347.90 113.49,348.21 113.84,348.84 114.19,349.78 114.54,350.79 114.89,351.41 115.23,351.30 115.57,350.45 115.91,349.14 116.25,347.71 116.59,346.67 116.93,346.47 117.26,346.88 117.60,347.30 117.93,347.48 118.26,347.52 118.59,347.52 118.91,347.50 119.24,347.49 119.56,347.48 119.88,347.46 120.20,347.45 120.52,347.44 120.84,347.42 121.16,347.41 121.47,347.40 121.78,347.38 122.09,347.37 122.40,347.36 122.71,347.34 123.02,347.33 123.32,347.31 123.63,347.30 123.93,347.29 124.23,347.27 124.53,347.26 124.82,347.24 125.12,347.23 125.41,347.21 125.71,347.20 126.00,347.18 126.29,347.17 126.58,347.15 126.86,347.14 127.15,347.12 127.43,347.10 127.71,347.09 127.99,347.07 128.27,347.05 128.55,347.04 128.82,347.02 129.10,347.00 129.37,346.99 129.64,346.97 129.91,346.95 130.18,346.93 130.45,346.91 130.71,346.89 130.97,346.88 131.24,346.86 131.50,346.84 131.76,346.82 132.01,346.80 132.27,346.78 132.52,346.76 132.78,346.74 133.03,346.71 133.28,346.69 133.53,346.67 133.77,346.65 134.02,346.63 134.26,346.60 134.50,346.58 134.75,346.56 134.98,346.53 135.22,346.51 135.46,346.49 135.69,346.46 135.93,346.44 136.16,346.41 136.39,346.39 136.62,346.36 136.85,346.33 137.07,346.31 137.30,346.28 137.52,346.25 137.74,346.22 137.96,346.19 138.18,346.17 138.40,346.14 138.61,346.11 138.83,346.08 139.04,346.05 139.25,346.01 139.46,345.98 139.67,345.95 139.88,345.92 140.08,345.88 140.29,345.85 140.49,345.82 140.69,345.78 140.89,345.75 141.09,345.71 141.29,345.67 141.48,345.64 141.67,345.60 141.87,345.56 142.06,345.52 142.25,345.48 142.44,345.44 142.62,345.40 142.81,345.36 142.99,345.32 143.17,345.27 143.36,345.23 143.54,345.19 143.71,345.14 143.89,345.10 144.07,345.05 144.24,345.00 144.41,344.95 144.58,344.90 144.75,344.85 144.92,344.80 145.09,344.75 145.25,344.70 145.42,344.65 145.58,344.59 145.74,344.54 145.90,344.48 146.06,344.42 146.22,344.36 146.37,344.30 146.53,344.24 146.68,344.18 146.83,344.12 146.98,344.05 147.13,343.99 147.28,343.92 147.42,343.85 147.57,343.78 147.71,343.71 147.85,343.64 147.99,343.57 148.13,343.49 148.27,343.42 148.41,343.34 148.54,343.26 148.68,343.18 148.81,343.10 148.94,343.01 149.07,342.93 149.20,342.84 149.33,342.75 149.45,342.66 149.58,342.57 149.70,342.47 149.82,342.38 149.94,342.28 150.06,342.18 150.18,342.07 150.29,341.97 150.41,341.86 150.52,341.75 150.63,341.64 150.75,341.52 150.86,341.40 150.96,341.28 151.07,341.16 151.18,341.03 151.28,340.91 151.38,340.77 151.49,340.64 151.59,340.50 151.69,340.36 151.78,340.22 151.88,340.07 151.98,339.91 152.07,339.76 152.16,339.60 152.26,339.44 152.35,339.27 152.44,339.10 152.52,338.92 152.61,338.74 152.69,338.55 152.78,338.36 152.86,338.17 152.94,337.96 153.02,337.76 153.10,337.55 153.18,337.33 153.26,337.10 153.33,336.87 153.41,336.63 153.48,336.39 153.55,336.14 153.62,335.88 153.69,335.61 153.76,335.34 153.83,335.05 153.89,334.76 153.96,334.46 154.02,334.15 154.08,333.83 154.14,333.50 154.20,333.15 154.26,332.80 154.32,332.43 154.37,332.06 154.43,331.67 154.48,331.26 154.54,330.84 154.59,330.41 154.64,329.96 154.69,329.49 154.74,329.01 154.78,328.50 154.83,327.98 154.87,327.44 154.92,326.88 154.96,326.29 155.00,325.68 155.04,325.05 155.08,324.39 155.12,323.70 155.15,322.99 155.19,322.24 155.22,321.46 155.26,320.65 155.29,319.80 155.32,318.91 155.35,317.99 155.38,317.02 155.41,316.01 155.44,314.95 155.46,313.84 155.49,312.68 155.51,311.47 155.54,310.20 155.56,308.88 155.58,307.49 155.60,306.05 155.62,304.54 155.64,302.96 155.65,301.33 155.67,299.63 155.69,297.87 155.70,296.05 155.71,294.18 155.73,292.27 155.74,290.32 155.75,288.34 155.76,286.36 155.77,284.38 155.78,282.44 155.78,280.55 155.79,278.74 155.80,277.05 155.80,275.50 155.80,274.11 155.81,272.93 155.81,271.95 155.81,271.21 155.81,270.70 155.81,270.43 155.81,270.35 156.04,354.80 230.46,354.80 230.69,270.35 230.69,270.43 230.69,270.70 230.69,271.21 230.69,271.95 230.69,272.93 230.70,274.11 230.70,275.50 230.70,277.05 230.71,278.74 230.72,280.55 230.72,282.44 230.73,284.38 230.74,286.36 230.75,288.34 230.76,290.32 230.77,292.27 230.79,294.18 230.80,296.05 230.81,297.87 230.83,299.63 230.85,301.33 230.86,302.96 230.88,304.54 230.90,306.05 230.92,307.49 230.94,308.88 230.96,310.20 230.99,311.47 231.01,312.68 231.04,313.84 231.06,314.95 231.09,316.01 231.12,317.02 231.15,317.99 231.18,318.91 231.21,319.80 231.24,320.65 231.28,321.46 231.31,322.24 231.35,322.99 231.38,323.70 231.42,324.39 231.46,325.05 231.50,325.68 231.54,326.29 231.58,326.88 231.63,327.44 231.67,327.98 231.72,328.50 231.76,329.01 231.81,329.49 231.86,329.96 231.91,330.41 231.96,330.84 232.02,331.26 232.07,331.67 232.13,332.06 232.18,332.43 232.24,332.80 232.30,333.15 232.36,333.50 232.42,333.83 232.48,334.15 232.54,334.46 232.61,334.76 232.67,335.05 232.74,335.34 232.81,335.61 232.88,335.88 232.95,336.14 233.02,336.39 233.09,336.63 233.17,336.87 233.24,337.10 233.32,337.33 233.40,337.55 233.48,337.76 233.56,337.96 233.64,338.17 233.72,338.36 233.81,338.55 233.89,338.74 233.98,338.92 234.06,339.10 234.15,339.27 234.24,339.44 234.34,339.60 234.43,339.76 234.52,339.91 234.62,340.07 234.72,340.22 234.81,340.36 234.91,340.50 235.01,340.64 235.12,340.77 235.22,340.91 235.32,341.03 235.43,341.16 235.54,341.28 235.64,341.40 235.75,341.52 235.87,341.64 235.98,341.75 236.09,341.86 236.21,341.97 236.32,342.07 236.44,342.18 236.56,342.28 236.68,342.38 236.80,342.47 236.92,342.57 237.05,342.66 237.17,342.75 237.30,342.84 237.43,342.93 237.56,343.01 237.69,343.10 237.82,343.18 237.96,343.26 238.09,343.34 238.23,343.42 238.37,343.49 238.51,343.57 238.65,343.64 238.79,343.71 238.93,343.78 239.08,343.85 239.22,343.92 239.37,343.99 239.52,344.05 239.67,344.12 239.82,344.18 239.97,344.24 240.13,344.30 240.28,344.36 240.44,344.42 240.60,344.48 240.76,344.54 240.92,344.59 241.08,344.65 241.25,344.70 241.41,344.75 241.58,344.80 241.75,344.85 241.92,344.90 242.09,344.95 242.26,345.00 242.43,345.05 242.61,345.10 242.79,345.14 242.96,345.19 243.14,345.23 243.33,345.27 243.51,345.32 243.69,345.36 243.88,345.40 244.06,345.44 244.25,345.48 244.44,345.52 244.63,345.56 244.83,345.60 245.02,345.64 245.21,345.67 245.41,345.71 245.61,345.75 245.81,345.78 246.01,345.82 246.21,345.85 246.42,345.88 246.62,345.92 246.83,345.95 247.04,345.98 247.25,346.01 247.46,346.05 247.67,346.08 247.89,346.11 248.10,346.14 248.32,346.17 248.54,346.19 248.76,346.22 248.98,346.25 249.20,346.28 249.43,346.31 249.65,346.33 249.88,346.36 250.11,346.39 250.34,346.41 250.57,346.44 250.81,346.46 251.04,346.49 251.28,346.51 251.52,346.53 251.75,346.56 252.00,346.58 252.24,346.60 252.48,346.63 252.73,346.65 252.97,346.67 253.22,346.69 253.47,346.71 253.72,346.74 253.98,346.76 254.23,346.78 254.49,346.80 254.74,346.82 255.00,346.84 255.26,346.86 255.53,346.88 255.79,346.89 256.05,346.91 256.32,346.93 256.59,346.95 256.86,346.97 257.13,346.99 257.40,347.00 257.68,347.02 257.95,347.04 258.23,347.05 258.51,347.07 258.79,347.09 259.07,347.10 259.35,347.12 259.64,347.14 259.92,347.15 260.21,347.17 260.50,347.18 260.79,347.20 261.09,347.21 261.38,347.23 261.68,347.24 261.97,347.26 262.27,347.27 262.57,347.29 262.87,347.30 263.18,347.31 263.48,347.33 263.79,347.34 264.10,347.36 264.41,347.37 264.72,347.38 265.03,347.40 265.34,347.41 265.66,347.42 265.98,347.44 266.30,347.45 266.62,347.46 266.94,347.48 267.26,347.49 267.59,347.50 267.91,347.52 268.24,347.52 268.57,347.48 268.90,347.30 269.24,346.88 269.57,346.47 269.91,346.67 270.25,347.71 270.59,349.14 270.93,350.45 271.27,351.30 271.61,351.41 271.96,350.79 272.31,349.78 272.66,348.84 273.01,348.21 273.36,347.90 273.71,347.79 274.07,347.77 274.42,347.77 274.78,347.79 275.14,347.80 275.51,347.82 275.87,347.83 276.23,347.85 276.60,347.87 276.97,347.88 277.34,347.90 277.71,347.92 278.08,347.94 278.46,347.96 278.83,347.98 279.21,348.00 279.59,348.02 279.97,348.04 280.35,348.06 280.74,348.08 281.12,348.11 281.51,348.13 281.90,348.16 282.29,348.19 282.68,348.22 283.08,348.25 283.47,348.28 283.87,348.31 284.27,348.35 284.67,348.38 285.07,348.42 285.47,348.46 285.88,348.51 286.29,348.55 286.70,348.60 287.11,348.65 287.52,348.70 287.93,348.76 288.35,348.82 288.76,348.88 289.18,348.95 289.60,349.02 290.02,349.10 290.45,349.18 290.87,349.26 291.30,349.35 291.73,349.45 292.16,349.55 292.59,349.66 293.02,349.78 293.45,349.90 293.89,350.04 294.33,350.18 294.77,350.33 295.21,350.49 295.65,350.66 296.10,350.85 296.54,351.05 296.99,351.26 297.44,351.48 297.89,351.73 298.35,351.98 298.80,352.26 299.26,352.56 299.72,352.88 300.18,353.22 300.64,353.59 301.10,353.98 301.56,354.40 302.03,354.74 302.50,354.30 302.97,353.88 303.44,353.49 303.91,353.12 304.39,352.78 304.86,352.46 305.34,352.16 305.82,351.88 306.30,351.62 306.79,351.38 307.27,351.16 307.76,350.94 308.24,350.75 308.73,350.56 309.23,350.39 309.72,350.23 310.21,350.09 310.71,349.95 311.21,349.82 311.71,349.70 312.21,349.59 312.71,349.49 313.22,349.39 313.72,349.30 314.23,349.22 314.74,349.14 315.25,349.07 315.77,349.00 316.28,348.94 316.80,348.89 317.32,348.83 317.84,348.78 318.36,348.74 318.88,348.70 319.41,348.66 319.94,348.62 320.47,348.59 321.00,348.56 321.53,348.53 322.06,348.51 322.60,348.48 323.13,348.46 323.67,348.44 324.21,348.42 324.76,348.41 325.30,348.39 325.85,348.38 326.39,348.36 326.94,348.35 327.49,348.34 328.05,348.33 328.60,348.32 329.16,348.32 329.71,348.31 330.27,348.30 330.83,348.30 331.40,348.29 331.96,348.29 332.53,348.28 333.10,348.28 333.67,348.27 334.24,348.27 334.81,348.27 335.39,348.27 335.96,348.26 336.54,348.26 337.12,348.26 337.70,348.26 338.29,348.26 338.87,348.26 339.46,348.26 340.05,348.26 340.64,348.26 341.23,348.26 341.83,348.26 342.42,348.26 343.02,348.26 343.62,348.26 344.22,348.26 344.82,348.26 345.43,348.26 346.03,348.26 346.64,348.26 347.25,348.26" fill="none" stroke="#109010" stroke-width="1.05" stroke-linejoin="miter" stroke-miterlimit="20"/>
<polyline points="39.25,348.25 39.85,348.25 40.46,348.24 41.06,348.24 41.65,348.24 42.25,348.24 42.85,348.24 43.44,348.23 44.03,348.23 44.62,348.23 45.21,348.23 45.80,348.23 46.38,348.23 46.96,348.22 47.55,348.22 48.13,348.22 48.70,348.22 49.28,348.22 49.85,348.21 50.43,348.21 51.00,348.21 51.57,348.21 52.13,348.21 52.70,348.20 53.26,348.20 53.83,348.20 54.39,348.20 54.95,348.20 55.50,348.19 56.06,348.19 56.61,348.19 57.17,348.19 57.72,348.18 58.27,348.18 58.81,348.18 59.36,348.18 59.90,348.17 60.44,348.17 60.99,348.17 61.52,348.17 62.06,348.17 62.60,348.16 63.13,348.16 63.66,348.16 64.19,348.16 64.72,348.16 65.25,348.16 65.77,348.16 66.30,348.16 66.82,348.16 67.34,348.17 67.86,348.18 68.37,348.20 68.89,348.23 69.40,348.28 69.91,348.34 70.42,348.43 70.93,348.57 71.44,348.77 71.94,349.05 72.45,349.45 72.95,350.04 73.45,350.88 73.95,352.08 74.44,353.79 74.94,353.62 75.43,351.96 75.92,350.81 76.41,349.99 76.90,349.42 77.39,349.02 77.87,348.74 78.36,348.54 78.84,348.40 79.32,348.30 79.80,348.23 80.27,348.17 80.75,348.14 81.22,348.11 81.69,348.09 82.16,348.07 82.63,348.06 83.10,348.05 83.56,348.04 84.03,348.03 84.49,348.03 84.95,348.02 85.41,348.02 85.86,348.01 86.32,348.01 86.77,348.00 87.22,348.00 87.67,347.99 88.12,347.99 88.57,347.98 89.01,347.98 89.46,347.98 89.90,347.97 90.34,347.97 90.78,347.96 91.22,347.96 91.65,347.95 92.09,347.95 92.52,347.94 92.95,347.94 93.38,347.93 93.80,347.93 94.23,347.92 94.65,347.92 95.08,347.91 95.50,347.91 95.92,347.90 96.33,347.90 96.75,347.89 97.16,347.89 97.58,347.88 97.99,347.87 98.40,347.87 98.81,347.86 99.21,347.86 99.62,347.85 100.02,347.84 100.42,347.84 100.82,347.83 101.22,347.83 101.61,347.82 102.01,347.81 102.40,347.81 102.79,347.80 103.18,347.79 103.57,347.79 103.96,347.78 104.34,347.77 104.73,347.77 105.11,347.76 105.49,347.75 105.87,347.75 106.25,347.74 106.62,347.73 107.00,347.72 107.37,347.72 107.74,347.71 108.11,347.70 108.48,347.69 108.84,347.69 109.21,347.68 109.57,347.67 109.93,347.66 110.29,347.65 110.65,347.65 111.01,347.64 111.36,347.63 111.71,347.62 112.07,347.61 112.42,347.60 112.77,347.59 113.11,347.59 113.46,347.58 113.80,347.57 114.14,347.56 114.49,347.55 114.82,347.54 115.16,347.53 115.50,347.52 115.83,347.51 116.17,347.50 116.50,347.49 116.83,347.48 117.16,347.47 117.48,347.46 117.81,347.45 118.13,347.44 118.45,347.43 118.77,347.41 119.09,347.40 119.41,347.39 119.73,347.38 120.04,347.37 120.35,347.36 120.66,347.34 120.97,347.33 121.28,347.32 121.59,347.31 121.89,347.29 122.20,347.28 122.50,347.27 122.80,347.26 123.10,347.24 123.40,347.23 123.69,347.22 123.99,347.20 124.28,347.19 124.57,347.17 124.86,347.16 125.15,347.14 125.43,347.13 125.72,347.11 126.00,347.10 126.29,347.08 126.57,347.07 126.85,347.05 127.12,347.04 127.40,347.02 127.67,347.00 127.95,346.99 128.22,346.97 128.49,346.95 128.76,346.94 129.02,346.92 129.29,346.90 129.55,346.88 129.81,346.87 130.08,346.85 130.33,346.83 130.59,346.81 130.85,346.79 131.10,346.77 131.36,346.75 131.61,346.73 131.86,346.71 132.11,346.69 132.36,346.67 132.60,346.65 132.85,346.63 133.09,346.60 133.33,346.58 133.57,346.56 133.81,346.54 134.05,346.51 134.28,346.49 134.52,346.47 134.75,346.44 134.98,346.42 135.21,346.39 135.44,346.37 135.67,346.34 135.89,346.32 136.11,346.29 136.34,346.26 136.56,346.24 136.78,346.21 137.00,346.18 137.21,346.15 137.43,346.12 137.64,346.10 137.85,346.07 138.06,346.04 138.27,346.01 138.48,345.97 138.69,345.94 138.89,345.91 139.10,345.88 139.30,345.85 139.50,345.81 139.70,345.78 139.89,345.74 140.09,345.71 140.29,345.67 140.48,345.64 140.67,345.60 140.86,345.57 141.05,345.53 141.24,345.49 141.43,345.45 141.61,345.41 141.79,345.37 141.98,345.33 142.16,345.29 142.34,345.25 142.51,345.20 142.69,345.16 142.87,345.12 143.04,345.07 143.21,345.03 143.38,344.98 143.55,344.93 143.72,344.89 143.89,344.84 144.05,344.79 144.22,344.74 144.38,344.69 144.54,344.63 144.70,344.58 144.86,344.53 145.01,344.47 145.17,344.42 145.32,344.36 145.48,344.30 145.63,344.25 145.78,344.19 145.93,344.13 146.07,344.06 146.22,344.00 146.36,343.94 146.51,343.87 146.65,343.81 146.79,343.74 146.93,343.67 147.07,343.60 147.20,343.53 147.34,343.46 147.47,343.39 147.60,343.31 147.74,343.24 147.87,343.16 147.99,343.08 148.12,343.00 148.25,342.92 148.37,342.83 148.49,342.75 148.62,342.66 148.74,342.57 148.86,342.48 148.97,342.39 149.09,342.30 149.21,342.20 149.32,342.11 149.43,342.01 149.54,341.91 149.65,341.80 149.76,341.70 149.87,341.59 149.98,341.48 150.08,341.37 150.18,341.26 150.29,341.14 150.39,341.02 150.49,340.90 150.58,340.78 150.68,340.65 150.78,340.53 150.87,340.40 150.97,340.26 151.06,340.12 151.15,339.99 151.24,339.84 151.33,339.70 151.41,339.55 151.50,339.40 151.58,339.24 151.67,339.08 151.75,338.92 151.83,338.76 151.91,338.59 151.99,338.41 152.06,338.24 152.14,338.06 152.22,337.87 152.29,337.68 152.36,337.49 152.43,337.29 152.50,337.09 152.57,336.89 152.64,336.68 152.70,336.46 152.77,336.24 152.83,336.02 152.90,335.78 152.96,335.55 153.02,335.31 153.08,335.06 153.13,334.81 153.19,334.55 153.25,334.29 153.30,334.02 153.35,333.75 153.41,333.46 153.46,333.18 153.51,332.88 153.56,332.58 153.60,332.28 153.65,331.96 153.70,331.65 153.74,331.32 153.78,330.99 153.82,330.65 153.87,330.30 153.91,329.95 153.94,329.60 153.98,329.23 154.02,328.86 154.05,328.48 154.09,328.10 154.12,327.72 154.15,327.32 154.18,326.93 154.21,326.52 154.24,326.12 154.27,325.71 154.30,325.30 154.33,324.88 154.35,324.47 154.37,324.05 154.40,323.64 154.42,323.22 154.44,322.81 154.46,322.40 154.48,321.99 154.50,321.59 154.51,321.20 154.53,320.82 154.55,320.44 154.56,320.08 154.57,319.73 154.59,319.39 154.60,319.07 154.61,318.76 154.62,318.47 154.63,318.20 154.63,317.95 154.64,317.73 154.65,317.52 154.65,317.34 154.66,317.18 154.66,317.04 154.67,316.93 154.67,316.84 154.67,316.78 154.67,316.73 154.67,316.71 154.67,316.70 155.34,354.80 231.16,354.80 231.83,316.70 231.83,316.71 231.83,316.73 231.83,316.78 231.83,316.84 231.83,316.93 231.84,317.04 231.84,317.18 231.85,317.34 231.85,317.52 231.86,317.73 231.87,317.95 231.87,318.20 231.88,318.47 231.89,318.76 231.90,319.07 231.91,319.39 231.93,319.73 231.94,320.08 231.95,320.44 231.97,320.82 231.99,321.20 232.00,321.59 232.02,321.99 232.04,322.40 232.06,322.81 232.08,323.22 232.10,323.64 232.13,324.05 232.15,324.47 232.17,324.88 232.20,325.30 232.23,325.71 232.26,326.12 232.29,326.52 232.32,326.93 232.35,327.32 232.38,327.72 232.41,328.10 232.45,328.48 232.48,328.86 232.52,329.23 232.56,329.60 232.59,329.95 232.63,330.30 232.68,330.65 232.72,330.99 232.76,331.32 232.80,331.65 232.85,331.96 232.90,332.28 232.94,332.58 232.99,332.88 233.04,333.18 233.09,333.46 233.15,333.75 233.20,334.02 233.25,334.29 233.31,334.55 233.37,334.81 233.42,335.06 233.48,335.31 233.54,335.55 233.60,335.78 233.67,336.02 233.73,336.24 233.80,336.46 233.86,336.68 233.93,336.89 234.00,337.09 234.07,337.29 234.14,337.49 234.21,337.68 234.28,337.87 234.36,338.06 234.44,338.24 234.51,338.41 234.59,338.59 234.67,338.76 234.75,338.92 234.83,339.08 234.92,339.24 235.00,339.40 235.09,339.55 235.17,339.70 235.26,339.84 235.35,339.99 235.44,340.12 235.53,340.26 235.63,340.40 235.72,340.53 235.82,340.65 235.92,340.78 236.01,340.90 236.11,341.02 236.21,341.14 236.32,341.26 236.42,341.37 236.52,341.48 236.63,341.59 236.74,341.70 236.85,341.80 236.96,341.91 237.07,342.01 237.18,342.11 237.29,342.20 237.41,342.30 237.53,342.39 237.64,342.48 237.76,342.57 237.88,342.66 238.01,342.75 238.13,342.83 238.25,342.92 238.38,343.00 238.51,343.08 238.63,343.16 238.76,343.24 238.90,343.31 239.03,343.39 239.16,343.46 239.30,343.53 239.43,343.60 239.57,343.67 239.71,343.74 239.85,343.81 239.99,343.87 240.14,343.94 240.28,344.00 240.43,344.06 240.57,344.13 240.72,344.19 240.87,344.25 241.02,344.30 241.18,344.36 241.33,344.42 241.49,344.47 241.64,344.53 241.80,344.58 241.96,344.63 242.12,344.69 242.28,344.74 242.45,344.79 242.61,344.84 242.78,344.89 242.95,344.93 243.12,344.98 243.29,345.03 243.46,345.07 243.63,345.12 243.81,345.16 243.99,345.20 244.16,345.25 244.34,345.29 244.52,345.33 244.71,345.37 244.89,345.41 245.07,345.45 245.26,345.49 245.45,345.53 245.64,345.57 245.83,345.60 246.02,345.64 246.21,345.67 246.41,345.71 246.61,345.74 246.80,345.78 247.00,345.81 247.20,345.85 247.40,345.88 247.61,345.91 247.81,345.94 248.02,345.97 248.23,346.01 248.44,346.04 248.65,346.07 248.86,346.10 249.07,346.12 249.29,346.15 249.50,346.18 249.72,346.21 249.94,346.24 250.16,346.26 250.39,346.29 250.61,346.32 250.83,346.34 251.06,346.37 251.29,346.39 251.52,346.42 251.75,346.44 251.98,346.47 252.22,346.49 252.45,346.51 252.69,346.54 252.93,346.56 253.17,346.58 253.41,346.60 253.65,346.63 253.90,346.65 254.14,346.67 254.39,346.69 254.64,346.71 254.89,346.73 255.14,346.75 255.40,346.77 255.65,346.79 255.91,346.81 256.17,346.83 256.42,346.85 256.69,346.87 256.95,346.88 257.21,346.90 257.48,346.92 257.74,346.94 258.01,346.95 258.28,346.97 258.55,346.99 258.83,347.00 259.10,347.02 259.38,347.04 259.65,347.05 259.93,347.07 260.21,347.08 260.50,347.10 260.78,347.11 261.07,347.13 261.35,347.14 261.64,347.16 261.93,347.17 262.22,347.19 262.51,347.20 262.81,347.22 263.10,347.23 263.40,347.24 263.70,347.26 264.00,347.27 264.30,347.28 264.61,347.29 264.91,347.31 265.22,347.32 265.53,347.33 265.84,347.34 266.15,347.36 266.46,347.37 266.77,347.38 267.09,347.39 267.41,347.40 267.73,347.41 268.05,347.43 268.37,347.44 268.69,347.45 269.02,347.46 269.34,347.47 269.67,347.48 270.00,347.49 270.33,347.50 270.67,347.51 271.00,347.52 271.34,347.53 271.68,347.54 272.01,347.55 272.36,347.56 272.70,347.57 273.04,347.58 273.39,347.59 273.73,347.59 274.08,347.60 274.43,347.61 274.79,347.62 275.14,347.63 275.49,347.64 275.85,347.65 276.21,347.65 276.57,347.66 276.93,347.67 277.29,347.68 277.66,347.69 278.02,347.69 278.39,347.70 278.76,347.71 279.13,347.72 279.50,347.72 279.88,347.73 280.25,347.74 280.63,347.75 281.01,347.75 281.39,347.76 281.77,347.77 282.16,347.77 282.54,347.78 282.93,347.79 283.32,347.79 283.71,347.80 284.10,347.81 284.49,347.81 284.89,347.82 285.28,347.83 285.68,347.83 286.08,347.84 286.48,347.84 286.88,347.85 287.29,347.86 287.69,347.86 288.10,347.87 288.51,347.87 288.92,347.88 289.34,347.89 289.75,347.89 290.17,347.90 290.58,347.90 291.00,347.91 291.42,347.91 291.85,347.92 292.27,347.92 292.70,347.93 293.12,347.93 293.55,347.94 293.98,347.94 294.41,347.95 294.85,347.95 295.28,347.96 295.72,347.96 296.16,347.97 296.60,347.97 297.04,347.98 297.49,347.98 297.93,347.98 298.38,347.99 298.83,347.99 299.28,348.00 299.73,348.00 300.18,348.01 300.64,348.01 301.09,348.02 301.55,348.02 302.01,348.03 302.47,348.03 302.94,348.04 303.40,348.05 303.87,348.06 304.34,348.07 304.81,348.09 305.28,348.11 305.75,348.14 306.23,348.17 306.70,348.23 307.18,348.30 307.66,348.40 308.14,348.54 308.63,348.74 309.11,349.02 309.60,349.42 310.09,349.99 310.58,350.81 311.07,351.96 311.56,353.62 312.06,353.79 312.55,352.08 313.05,350.88 313.55,350.04 314.05,349.45 314.56,349.05 315.06,348.77 315.57,348.57 316.08,348.43 316.59,348.34 317.10,348.28 317.61,348.23 318.13,348.20 318.64,348.18 319.16,348.17 319.68,348.16 320.20,348.16 320.73,348.16 321.25,348.16 321.78,348.16 322.31,348.16 322.84,348.16 323.37,348.16 323.90,348.16 324.44,348.17 324.98,348.17 325.51,348.17 326.06,348.17 326.60,348.17 327.14,348.18 327.69,348.18 328.23,348.18 328.78,348.18 329.33,348.19 329.89,348.19 330.44,348.19 331.00,348.19 331.55,348.20 332.11,348.20 332.67,348.20 333.24,348.20 333.80,348.20 334.37,348.21 334.93,348.21 335.50,348.21 336.07,348.21 336.65,348.21 337.22,348.22 337.80,348.22 338.37,348.22 338.95,348.22 339.54,348.22 340.12,348.23 340.70,348.23 341.29,348.23 341.88,348.23 342.47,348.23 343.06,348.23 343.65,348.24 344.25,348.24 344.85,348.24 345.44,348.24 346.04,348.24 346.65,348.25 347.25,348.25" fill="none" stroke="#ff9a30" stroke-width="1.05" stroke-linejoin="miter" stroke-miterlimit="20"/>
<rect x="39.3" y="253.6" width="307.9" height="105.29999999999998" fill="none" stroke="#444444" stroke-width="1"/>
<line x1="70.05" y1="358.9" x2="70.05" y2="355.9" stroke="#444444" stroke-width="0.8"/>
<line x1="100.85" y1="358.9" x2="100.85" y2="355.9" stroke="#444444" stroke-width="0.8"/>
<line x1="131.65" y1="358.9" x2="131.65" y2="355.9" stroke="#444444" stroke-width="0.8"/>
<line x1="162.45" y1="358.9" x2="162.45" y2="355.9" stroke="#444444" stroke-width="0.8"/>
<line x1="193.25" y1="358.9" x2="193.25" y2="355.9" stroke="#444444" stroke-width="0.8"/>
<line x1="224.05" y1="358.9" x2="224.05" y2="355.9" stroke="#444444" stroke-width="0.8"/>
<line x1="254.85" y1="358.9" x2="254.85" y2="355.9" stroke="#444444" stroke-width="0.8"/>
<line x1="285.65" y1="358.9" x2="285.65" y2="355.9" stroke="#444444" stroke-width="0.8"/>
<line x1="316.45" y1="358.9" x2="316.45" y2="355.9" stroke="#444444" stroke-width="0.8"/>
<line x1="54.65" y1="358.9" x2="54.65" y2="357.09999999999997" stroke="#444444" stroke-width="0.8"/>
<line x1="85.45" y1="358.9" x2="85.45" y2="357.09999999999997" stroke="#444444" stroke-width="0.8"/>
<line x1="116.25" y1="358.9" x2="116.25" y2="357.09999999999997" stroke="#444444" stroke-width="0.8"/>
<line x1="147.05" y1="358.9" x2="147.05" y2="357.09999999999997" stroke="#444444" stroke-width="0.8"/>
<line x1="177.85" y1="358.9" x2="177.85" y2="357.09999999999997" stroke="#444444" stroke-width="0.8"/>
<line x1="208.65" y1="358.9" x2="208.65" y2="357.09999999999997" stroke="#444444" stroke-width="0.8"/>
<line x1="239.45" y1="358.9" x2="239.45" y2="357.09999999999997" stroke="#444444" stroke-width="0.8"/>
<line x1="270.25" y1="358.9" x2="270.25" y2="357.09999999999997" stroke="#444444" stroke-width="0.8"/>
<line x1="301.05" y1="358.9" x2="301.05" y2="357.09999999999997" stroke="#444444" stroke-width="0.8"/>
<line x1="331.85" y1="358.9" x2="331.85" y2="357.09999999999997" stroke="#444444" stroke-width="0.8"/>
<text x="38.05" y="370.9" font-size="11" text-anchor="middle">-5</text>
<text x="68.85" y="370.9" font-size="11" text-anchor="middle">-4</text>
<text x="99.65" y="370.9" font-size="11" text-anchor="middle">-3</text>
<text x="130.45" y="370.9" font-size="11" text-anchor="middle">-2</text>
<text x="161.25" y="370.9" font-size="11" text-anchor="middle">-1</text>
<text x="193.25" y="370.9" font-size="11" text-anchor="middle">0</text>
<text x="224.05" y="370.9" font-size="11" text-anchor="middle">1</text>
<text x="254.85" y="370.9" font-size="11" text-anchor="middle">2</text>
<text x="285.65" y="370.9" font-size="11" text-anchor="middle">3</text>
<text x="316.45" y="370.9" font-size="11" text-anchor="middle">4</text>
<text x="347.25" y="370.9" font-size="11" text-anchor="middle">5</text>
<line x1="39.3" y1="354.80" x2="42.3" y2="354.80" stroke="#444444" stroke-width="0.8"/>
<text x="37" y="358.40" font-size="11" text-anchor="end">0</text>
<line x1="39.3" y1="329.40" x2="42.3" y2="329.40" stroke="#444444" stroke-width="0.8"/>
<text x="37" y="333.00" font-size="11" text-anchor="end">4</text>
<line x1="39.3" y1="304.00" x2="42.3" y2="304.00" stroke="#444444" stroke-width="0.8"/>
<text x="37" y="307.60" font-size="11" text-anchor="end">8</text>
<line x1="39.3" y1="278.60" x2="42.3" y2="278.60" stroke="#444444" stroke-width="0.8"/>
<text x="37" y="282.20" font-size="11" text-anchor="end">12</text>
<line x1="39.3" y1="253.20" x2="42.3" y2="253.20" stroke="#444444" stroke-width="0.8"/>
<text x="37" y="256.80" font-size="11" text-anchor="end">16</text>
<line x1="39.3" y1="342.10" x2="41.099999999999994" y2="342.10" stroke="#444444" stroke-width="0.8"/>
<line x1="39.3" y1="316.70" x2="41.099999999999994" y2="316.70" stroke="#444444" stroke-width="0.8"/>
<line x1="39.3" y1="291.30" x2="41.099999999999994" y2="291.30" stroke="#444444" stroke-width="0.8"/>
<line x1="39.3" y1="265.90" x2="41.099999999999994" y2="265.90" stroke="#444444" stroke-width="0.8"/>
<text transform="translate(16.8,310) rotate(-90)" font-size="11.5" text-anchor="middle">NDOS</text>
<text x="193.5" y="384.4" font-size="11" text-anchor="middle"><tspan font-size="9.5">ω</tspan> (meV)</text>
<text x="44.0" y="265.1" font-size="10">Thickness</text>
<line x1="43.1" y1="273.5" x2="64.6" y2="273.5" stroke="#ff2a2a" stroke-width="1"/>
<text x="68.0" y="277.0" font-size="10">5 ML</text>
<line x1="43.1" y1="285.5" x2="64.6" y2="285.5" stroke="#111111" stroke-width="1"/>
<text x="68.0" y="289.0" font-size="10">6 ML</text>
<line x1="43.1" y1="296.5" x2="64.6" y2="296.5" stroke="#1a1aff" stroke-width="1"/>
<text x="68.0" y="300.0" font-size="10">7 ML</text>
<line x1="96.30000000000001" y1="273.5" x2="117.80000000000001" y2="273.5" stroke="#a040c8" stroke-width="1"/>
<text x="120.2" y="277.0" font-size="10">8 ML</text>
<line x1="96.30000000000001" y1="285.5" x2="117.80000000000001" y2="285.5" stroke="#109010" stroke-width="1"/>
<text x="120.2" y="289.0" font-size="10">9 ML</text>
<line x1="96.30000000000001" y1="296.5" x2="117.80000000000001" y2="296.5" stroke="#ff9a30" stroke-width="1"/>
<text x="120.2" y="300.0" font-size="10">10 ML</text>
<line x1="160" y1="272.4" x2="227" y2="272.4" stroke="#000" stroke-width="1"/>
<polygon points="157.4,272.4 164,269.9 164,274.9" fill="#000"/>
<polygon points="229.3,272.4 222.7,269.9 222.7,274.9" fill="#000"/>
<text x="194.3" y="267.6" font-size="9.5" text-anchor="middle">2<tspan font-size="8.5">Δ</tspan>(0)</text>
</svg>
</body></html>
